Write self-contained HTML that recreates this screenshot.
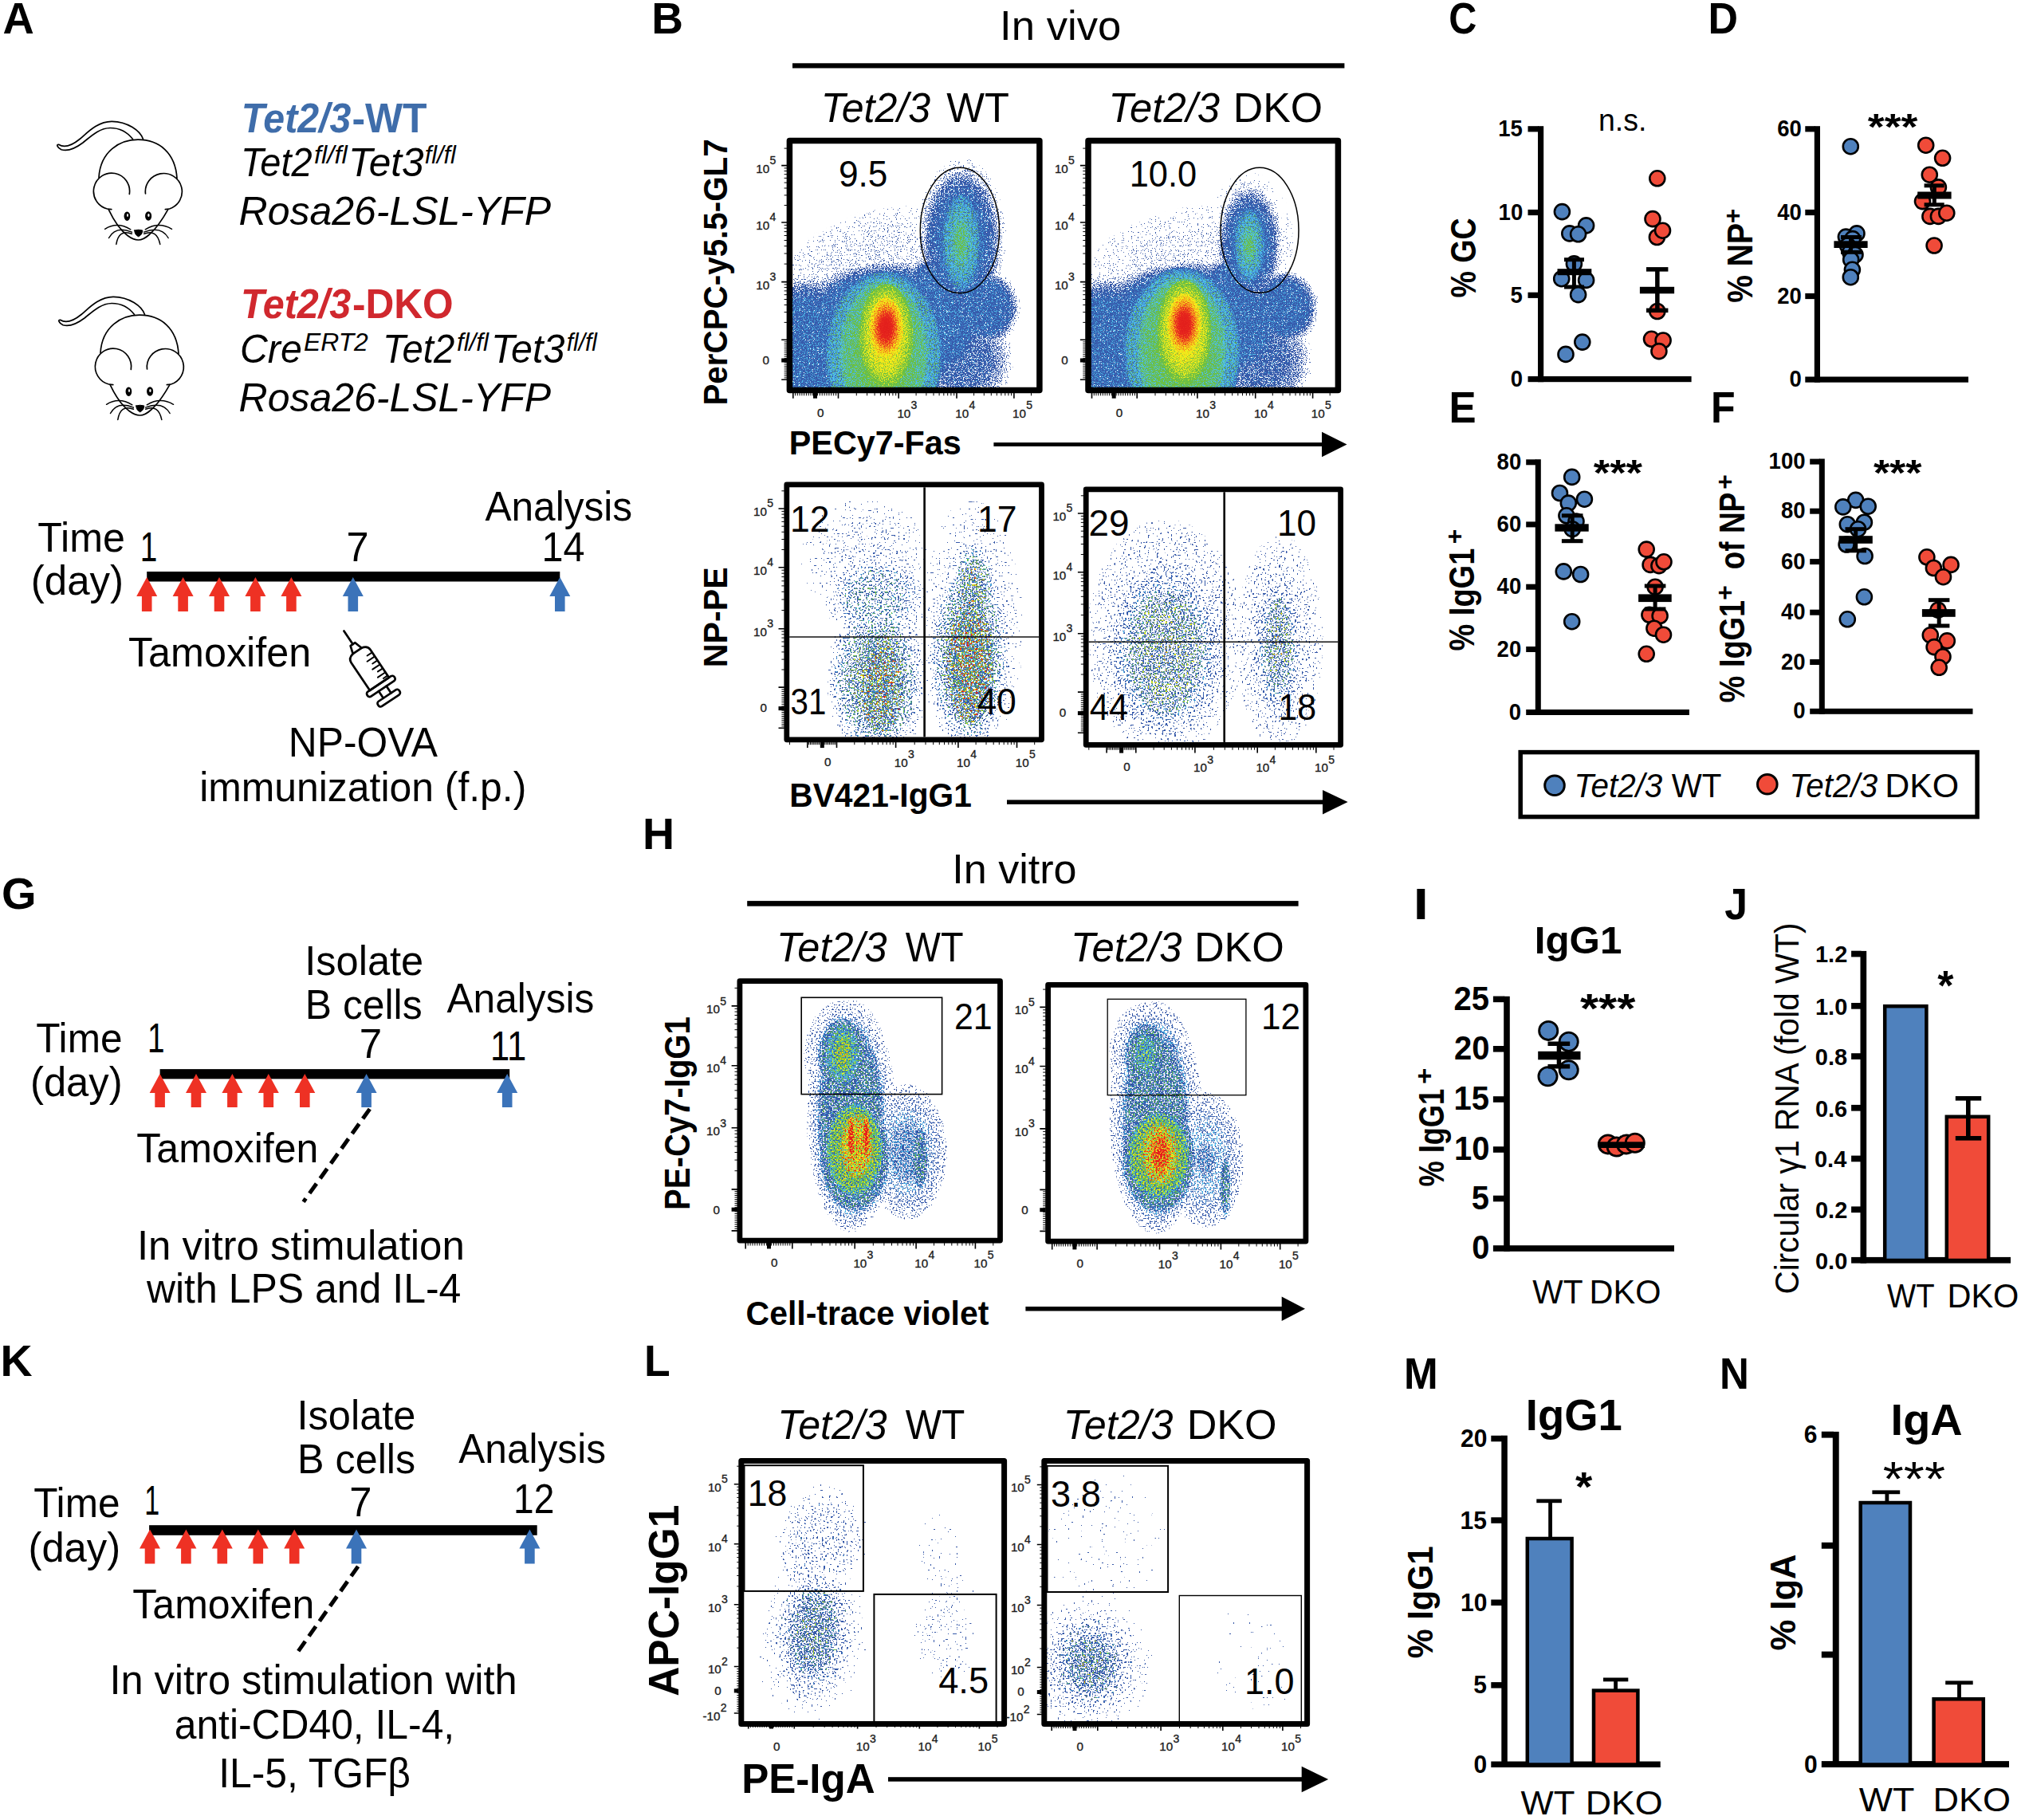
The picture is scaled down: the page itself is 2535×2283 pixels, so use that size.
<!DOCTYPE html>
<html><head><meta charset="utf-8"><title>Figure</title><style>html,body{margin:0;padding:0;background:#fff}svg{display:block}text{font-family:"Liberation Sans",sans-serif;white-space:pre}</style></head><body>
<svg width="2535" height="2283" viewBox="0 0 2535 2283">
<defs>
<radialGradient id="g1"><stop offset="0" stop-color="#6e6e6e"/><stop offset="0.72" stop-color="#6e6e6e"/><stop offset="0.82" stop-color="#5e5e5e"/><stop offset="0.9" stop-color="#454545"/><stop offset="0.96" stop-color="#2b2b2b"/><stop offset="1" stop-color="#141414"/></radialGradient>
<radialGradient id="g2"><stop offset="0" stop-color="#6e6e6e"/><stop offset="0.66" stop-color="#6e6e6e"/><stop offset="0.8" stop-color="#575757"/><stop offset="0.9" stop-color="#383838"/><stop offset="1" stop-color="#121212"/></radialGradient>
<radialGradient id="g3"><stop offset="0" stop-color="#6e6e6e"/><stop offset="0.66" stop-color="#6b6b6b"/><stop offset="0.8" stop-color="#525252"/><stop offset="0.9" stop-color="#333333"/><stop offset="1" stop-color="#0d0d0d"/></radialGradient>
<radialGradient id="g4"><stop offset="0" stop-color="#616161"/><stop offset="0.5" stop-color="#5c5c5c"/><stop offset="0.75" stop-color="#474747"/><stop offset="0.9" stop-color="#292929"/><stop offset="1" stop-color="#080808"/></radialGradient>
<radialGradient id="g5"><stop offset="0" stop-color="#6e6e6e"/><stop offset="0.6" stop-color="#666666"/><stop offset="0.85" stop-color="#383838"/><stop offset="1" stop-color="#0d0d0d"/></radialGradient>
<radialGradient id="g6"><stop offset="0" stop-color="#2e2e2e"/><stop offset="0.3" stop-color="#292929"/><stop offset="0.55" stop-color="#212121"/><stop offset="0.75" stop-color="#141414"/><stop offset="1" stop-color="#000000"/></radialGradient>
<radialGradient id="g7"><stop offset="0" stop-color="#212121"/><stop offset="0.6" stop-color="#1a1a1a"/><stop offset="0.8" stop-color="#0f0f0f"/><stop offset="1" stop-color="#000000"/></radialGradient>
<radialGradient id="g8"><stop offset="0" stop-color="#999999"/><stop offset="0.93" stop-color="#858585"/><stop offset="1" stop-color="#707070"/></radialGradient>
<radialGradient id="g9"><stop offset="0" stop-color="#b2b2b2"/><stop offset="0.9" stop-color="#999999"/><stop offset="1" stop-color="#8f8f8f"/></radialGradient>
<radialGradient id="g10"><stop offset="0" stop-color="#dbdbdb"/><stop offset="0.8" stop-color="#bfbfbf"/><stop offset="1" stop-color="#adadad"/></radialGradient>
<radialGradient id="g11"><stop offset="0" stop-color="#fcfcfc"/><stop offset="0.3" stop-color="#f5f5f5"/><stop offset="0.6" stop-color="#e3e3e3"/><stop offset="1" stop-color="#cccccc"/></radialGradient>
<radialGradient id="g12"><stop offset="0" stop-color="#808080"/><stop offset="0.45" stop-color="#707070"/><stop offset="0.68" stop-color="#5c5c5c"/><stop offset="0.8" stop-color="#3d3d3d"/><stop offset="0.9" stop-color="#212121"/><stop offset="1" stop-color="#080808"/></radialGradient>
<radialGradient id="g13"><stop offset="0" stop-color="#999999"/><stop offset="0.8" stop-color="#858585"/><stop offset="1" stop-color="#757575"/></radialGradient>
<radialGradient id="g14"><stop offset="0" stop-color="#a2a2a2"/><stop offset="0.7" stop-color="#969696"/><stop offset="1" stop-color="#8f8f8f"/></radialGradient>
<filter id="fb1" filterUnits="userSpaceOnUse" x="994.1" y="180.3" width="306.0" height="305.5" color-interpolation-filters="sRGB"><feTurbulence type="fractalNoise" baseFrequency="0.83" numOctaves="2" seed="3" result="n"/><feColorMatrix in="n" type="matrix" values="2.2 0 0 0 -0.60 2.2 0 0 0 -0.60 2.2 0 0 0 -0.60 0 0 0 0 1" result="m"/><feComposite in="SourceGraphic" in2="m" operator="arithmetic" k1="-0.383" k2="1.191" k3="0.450" k4="-0.225"/><feComponentTransfer><feFuncR type="table" tableValues="1 1 1 1 1 1 1 1 1 1 1 1 1 1 1 1 1 1 1 1 1 1 1 1 1 1 1 1 1 1 0.2 0.21 0.21 0.21 0.21 0.21 0.21 0.21 0.22 0.22 0.22 0.22 0.22 0.22 0.22 0.23 0.23 0.24 0.25 0.26 0.27 0.28 0.29 0.31 0.31 0.31 0.31 0.31 0.33 0.35 0.38 0.4 0.42 0.42 0.42 0.42 0.42 0.42 0.42 0.42 0.42 0.42 0.42 0.51 0.61 0.71 0.81 0.9 0.95 0.95 0.95 0.95 0.95 0.96 0.96 0.96 0.96 0.96 0.96 0.95 0.94 0.93 0.92 0.91 0.91 0.9 0.9 0.9 0.89 0.89 0.89"/><feFuncG type="table" tableValues="1 1 1 1 1 1 1 1 1 1 1 1 1 1 1 1 1 1 1 1 1 1 1 1 1 1 1 1 1 1 0.33 0.33 0.34 0.34 0.35 0.35 0.35 0.36 0.36 0.36 0.37 0.37 0.38 0.38 0.38 0.39 0.39 0.44 0.49 0.54 0.59 0.64 0.69 0.75 0.75 0.75 0.75 0.75 0.75 0.75 0.75 0.75 0.75 0.75 0.75 0.75 0.75 0.75 0.75 0.75 0.75 0.75 0.75 0.78 0.81 0.84 0.88 0.91 0.93 0.93 0.93 0.93 0.93 0.86 0.79 0.72 0.66 0.59 0.52 0.44 0.37 0.3 0.23 0.16 0.15 0.15 0.14 0.13 0.13 0.12 0.12"/><feFuncB type="table" tableValues="1 1 1 1 1 1 1 1 1 1 1 1 1 1 1 1 1 1 1 1 1 1 1 1 1 1 1 1 1 1 0.64 0.65 0.65 0.65 0.66 0.66 0.67 0.67 0.67 0.68 0.68 0.69 0.69 0.69 0.7 0.7 0.71 0.74 0.77 0.8 0.83 0.86 0.89 0.93 0.93 0.93 0.93 0.93 0.78 0.63 0.49 0.34 0.27 0.27 0.27 0.27 0.27 0.27 0.27 0.27 0.27 0.27 0.27 0.24 0.21 0.18 0.15 0.11 0.1 0.1 0.1 0.1 0.1 0.1 0.11 0.11 0.11 0.12 0.12 0.12 0.12 0.12 0.12 0.12 0.12 0.12 0.11 0.11 0.11 0.11 0.11"/></feComponentTransfer></filter>
<radialGradient id="g15"><stop offset="0" stop-color="#6e6e6e"/><stop offset="0.72" stop-color="#6e6e6e"/><stop offset="0.82" stop-color="#5e5e5e"/><stop offset="0.9" stop-color="#454545"/><stop offset="0.96" stop-color="#2b2b2b"/><stop offset="1" stop-color="#141414"/></radialGradient>
<radialGradient id="g16"><stop offset="0" stop-color="#6e6e6e"/><stop offset="0.66" stop-color="#6e6e6e"/><stop offset="0.8" stop-color="#575757"/><stop offset="0.9" stop-color="#383838"/><stop offset="1" stop-color="#121212"/></radialGradient>
<radialGradient id="g17"><stop offset="0" stop-color="#6e6e6e"/><stop offset="0.66" stop-color="#6b6b6b"/><stop offset="0.8" stop-color="#525252"/><stop offset="0.9" stop-color="#333333"/><stop offset="1" stop-color="#0d0d0d"/></radialGradient>
<radialGradient id="g18"><stop offset="0" stop-color="#616161"/><stop offset="0.5" stop-color="#5c5c5c"/><stop offset="0.75" stop-color="#474747"/><stop offset="0.9" stop-color="#292929"/><stop offset="1" stop-color="#080808"/></radialGradient>
<radialGradient id="g19"><stop offset="0" stop-color="#6e6e6e"/><stop offset="0.6" stop-color="#666666"/><stop offset="0.85" stop-color="#383838"/><stop offset="1" stop-color="#0d0d0d"/></radialGradient>
<radialGradient id="g20"><stop offset="0" stop-color="#2e2e2e"/><stop offset="0.3" stop-color="#292929"/><stop offset="0.55" stop-color="#212121"/><stop offset="0.75" stop-color="#141414"/><stop offset="1" stop-color="#000000"/></radialGradient>
<radialGradient id="g21"><stop offset="0" stop-color="#212121"/><stop offset="0.6" stop-color="#1a1a1a"/><stop offset="0.8" stop-color="#0f0f0f"/><stop offset="1" stop-color="#000000"/></radialGradient>
<radialGradient id="g22"><stop offset="0" stop-color="#999999"/><stop offset="0.93" stop-color="#858585"/><stop offset="1" stop-color="#707070"/></radialGradient>
<radialGradient id="g23"><stop offset="0" stop-color="#b2b2b2"/><stop offset="0.9" stop-color="#999999"/><stop offset="1" stop-color="#8f8f8f"/></radialGradient>
<radialGradient id="g24"><stop offset="0" stop-color="#dbdbdb"/><stop offset="0.8" stop-color="#bfbfbf"/><stop offset="1" stop-color="#adadad"/></radialGradient>
<radialGradient id="g25"><stop offset="0" stop-color="#fcfcfc"/><stop offset="0.3" stop-color="#f5f5f5"/><stop offset="0.6" stop-color="#e3e3e3"/><stop offset="1" stop-color="#cccccc"/></radialGradient>
<radialGradient id="g26"><stop offset="0" stop-color="#808080"/><stop offset="0.45" stop-color="#707070"/><stop offset="0.68" stop-color="#5c5c5c"/><stop offset="0.8" stop-color="#3d3d3d"/><stop offset="0.9" stop-color="#212121"/><stop offset="1" stop-color="#080808"/></radialGradient>
<radialGradient id="g27"><stop offset="0" stop-color="#999999"/><stop offset="0.8" stop-color="#858585"/><stop offset="1" stop-color="#757575"/></radialGradient>
<radialGradient id="g28"><stop offset="0" stop-color="#a2a2a2"/><stop offset="0.7" stop-color="#969696"/><stop offset="1" stop-color="#8f8f8f"/></radialGradient>
<filter id="fb2" filterUnits="userSpaceOnUse" x="1368.8" y="180.3" width="305.9" height="305.5" color-interpolation-filters="sRGB"><feTurbulence type="fractalNoise" baseFrequency="0.83" numOctaves="2" seed="7" result="n"/><feColorMatrix in="n" type="matrix" values="2.2 0 0 0 -0.60 2.2 0 0 0 -0.60 2.2 0 0 0 -0.60 0 0 0 0 1" result="m"/><feComposite in="SourceGraphic" in2="m" operator="arithmetic" k1="-0.383" k2="1.191" k3="0.450" k4="-0.225"/><feComponentTransfer><feFuncR type="table" tableValues="1 1 1 1 1 1 1 1 1 1 1 1 1 1 1 1 1 1 1 1 1 1 1 1 1 1 1 1 1 1 0.2 0.21 0.21 0.21 0.21 0.21 0.21 0.21 0.22 0.22 0.22 0.22 0.22 0.22 0.22 0.23 0.23 0.24 0.25 0.26 0.27 0.28 0.29 0.31 0.31 0.31 0.31 0.31 0.33 0.35 0.38 0.4 0.42 0.42 0.42 0.42 0.42 0.42 0.42 0.42 0.42 0.42 0.42 0.51 0.61 0.71 0.81 0.9 0.95 0.95 0.95 0.95 0.95 0.96 0.96 0.96 0.96 0.96 0.96 0.95 0.94 0.93 0.92 0.91 0.91 0.9 0.9 0.9 0.89 0.89 0.89"/><feFuncG type="table" tableValues="1 1 1 1 1 1 1 1 1 1 1 1 1 1 1 1 1 1 1 1 1 1 1 1 1 1 1 1 1 1 0.33 0.33 0.34 0.34 0.35 0.35 0.35 0.36 0.36 0.36 0.37 0.37 0.38 0.38 0.38 0.39 0.39 0.44 0.49 0.54 0.59 0.64 0.69 0.75 0.75 0.75 0.75 0.75 0.75 0.75 0.75 0.75 0.75 0.75 0.75 0.75 0.75 0.75 0.75 0.75 0.75 0.75 0.75 0.78 0.81 0.84 0.88 0.91 0.93 0.93 0.93 0.93 0.93 0.86 0.79 0.72 0.66 0.59 0.52 0.44 0.37 0.3 0.23 0.16 0.15 0.15 0.14 0.13 0.13 0.12 0.12"/><feFuncB type="table" tableValues="1 1 1 1 1 1 1 1 1 1 1 1 1 1 1 1 1 1 1 1 1 1 1 1 1 1 1 1 1 1 0.64 0.65 0.65 0.65 0.66 0.66 0.67 0.67 0.67 0.68 0.68 0.69 0.69 0.69 0.7 0.7 0.71 0.74 0.77 0.8 0.83 0.86 0.89 0.93 0.93 0.93 0.93 0.93 0.78 0.63 0.49 0.34 0.27 0.27 0.27 0.27 0.27 0.27 0.27 0.27 0.27 0.27 0.27 0.24 0.21 0.18 0.15 0.11 0.1 0.1 0.1 0.1 0.1 0.1 0.11 0.11 0.11 0.12 0.12 0.12 0.12 0.12 0.12 0.12 0.12 0.12 0.11 0.11 0.11 0.11 0.11"/></feComponentTransfer></filter>
<radialGradient id="g29"><stop offset="0" stop-color="#242424"/><stop offset="0.6" stop-color="#1a1a1a"/><stop offset="0.85" stop-color="#0d0d0d"/><stop offset="1" stop-color="#000000"/></radialGradient>
<radialGradient id="g30"><stop offset="0" stop-color="#757575"/><stop offset="0.45" stop-color="#696969"/><stop offset="0.7" stop-color="#4c4c4c"/><stop offset="0.88" stop-color="#262626"/><stop offset="1" stop-color="#080808"/></radialGradient>
<radialGradient id="g31"><stop offset="0" stop-color="#999999"/><stop offset="0.5" stop-color="#8f8f8f"/><stop offset="0.8" stop-color="#808080"/><stop offset="1" stop-color="#707070"/></radialGradient>
<radialGradient id="g32"><stop offset="0" stop-color="#242424"/><stop offset="0.5" stop-color="#1c1c1c"/><stop offset="0.8" stop-color="#0f0f0f"/><stop offset="1" stop-color="#000000"/></radialGradient>
<radialGradient id="g33"><stop offset="0" stop-color="#4f4f4f"/><stop offset="0.5" stop-color="#454545"/><stop offset="0.8" stop-color="#242424"/><stop offset="1" stop-color="#050505"/></radialGradient>
<radialGradient id="g34"><stop offset="0" stop-color="#787878"/><stop offset="0.5" stop-color="#6b6b6b"/><stop offset="0.8" stop-color="#4c4c4c"/><stop offset="1" stop-color="#262626"/></radialGradient>
<radialGradient id="g35"><stop offset="0" stop-color="#737373"/><stop offset="0.45" stop-color="#666666"/><stop offset="0.7" stop-color="#4a4a4a"/><stop offset="0.88" stop-color="#242424"/><stop offset="1" stop-color="#080808"/></radialGradient>
<radialGradient id="g36"><stop offset="0" stop-color="#8a8a8a"/><stop offset="0.5" stop-color="#828282"/><stop offset="0.8" stop-color="#757575"/><stop offset="1" stop-color="#6b6b6b"/></radialGradient>
<filter id="fb3" filterUnits="userSpaceOnUse" x="990.2" y="611.3" width="312.9" height="313.1" color-interpolation-filters="sRGB"><feTurbulence type="fractalNoise" baseFrequency="0.45" numOctaves="1" seed="11" result="n"/><feColorMatrix in="n" type="matrix" values="2.2 0 0 0 -0.60 2.2 0 0 0 -0.60 2.2 0 0 0 -0.60 0 0 0 0 1" result="m"/><feComposite in="SourceGraphic" in2="m" operator="arithmetic" k1="-0.000" k2="1.000" k3="0.800" k4="-0.400"/><feComponentTransfer><feFuncR type="table" tableValues="1 1 1 1 1 1 1 1 1 1 1 1 1 1 1 1 1 1 1 1 1 1 1 1 1 1 1 1 1 1 1 1 1 1 1 1 1 1 1 1 1 0.2 0.21 0.21 0.21 0.21 0.21 0.21 0.21 0.22 0.22 0.22 0.22 0.22 0.22 0.23 0.23 0.25 0.28 0.31 0.31 0.31 0.36 0.42 0.42 0.42 0.42 0.42 0.42 0.42 0.42 0.57 0.72 0.88 0.95 0.95 0.95 0.95 0.95 0.96 0.96 0.95 0.93 0.91 0.91 0.91 0.91 0.9 0.9 0.9 0.9 0.9 0.9 0.9 0.89 0.89 0.89 0.89 0.89 0.89 0.89"/><feFuncG type="table" tableValues="1 1 1 1 1 1 1 1 1 1 1 1 1 1 1 1 1 1 1 1 1 1 1 1 1 1 1 1 1 1 1 1 1 1 1 1 1 1 1 1 1 0.33 0.33 0.34 0.34 0.35 0.35 0.35 0.36 0.36 0.37 0.37 0.38 0.38 0.38 0.39 0.39 0.51 0.63 0.75 0.75 0.75 0.75 0.75 0.75 0.75 0.75 0.75 0.75 0.75 0.75 0.8 0.85 0.9 0.93 0.93 0.93 0.93 0.93 0.76 0.59 0.44 0.3 0.16 0.15 0.15 0.15 0.15 0.15 0.14 0.14 0.14 0.14 0.13 0.13 0.13 0.13 0.12 0.12 0.12 0.12"/><feFuncB type="table" tableValues="1 1 1 1 1 1 1 1 1 1 1 1 1 1 1 1 1 1 1 1 1 1 1 1 1 1 1 1 1 1 1 1 1 1 1 1 1 1 1 1 1 0.64 0.65 0.65 0.66 0.66 0.66 0.67 0.67 0.68 0.68 0.68 0.69 0.69 0.7 0.7 0.71 0.78 0.85 0.93 0.93 0.93 0.6 0.27 0.27 0.27 0.27 0.27 0.27 0.27 0.27 0.22 0.17 0.12 0.1 0.1 0.1 0.1 0.1 0.11 0.12 0.12 0.12 0.12 0.12 0.12 0.12 0.12 0.12 0.11 0.11 0.11 0.11 0.11 0.11 0.11 0.11 0.11 0.11 0.11 0.11"/></feComponentTransfer></filter>
<radialGradient id="g37"><stop offset="0" stop-color="#292929"/><stop offset="0.6" stop-color="#1f1f1f"/><stop offset="0.85" stop-color="#0f0f0f"/><stop offset="1" stop-color="#000000"/></radialGradient>
<radialGradient id="g38"><stop offset="0" stop-color="#5c5c5c"/><stop offset="0.5" stop-color="#4f4f4f"/><stop offset="0.75" stop-color="#383838"/><stop offset="0.9" stop-color="#1f1f1f"/><stop offset="1" stop-color="#080808"/></radialGradient>
<radialGradient id="g39"><stop offset="0" stop-color="#666666"/><stop offset="0.6" stop-color="#616161"/><stop offset="1" stop-color="#545454"/></radialGradient>
<radialGradient id="g40"><stop offset="0" stop-color="#242424"/><stop offset="0.6" stop-color="#1a1a1a"/><stop offset="0.85" stop-color="#0d0d0d"/><stop offset="1" stop-color="#000000"/></radialGradient>
<radialGradient id="g41"><stop offset="0" stop-color="#545454"/><stop offset="0.5" stop-color="#474747"/><stop offset="0.8" stop-color="#292929"/><stop offset="1" stop-color="#0a0a0a"/></radialGradient>
<radialGradient id="g42"><stop offset="0" stop-color="#696969"/><stop offset="0.6" stop-color="#616161"/><stop offset="1" stop-color="#525252"/></radialGradient>
<filter id="fb4" filterUnits="userSpaceOnUse" x="1365.6" y="617.3" width="312.6" height="313.6" color-interpolation-filters="sRGB"><feTurbulence type="fractalNoise" baseFrequency="0.45" numOctaves="1" seed="12" result="n"/><feColorMatrix in="n" type="matrix" values="2.6 0 0 0 -0.80 2.6 0 0 0 -0.80 2.6 0 0 0 -0.80 0 0 0 0 1" result="m"/><feComposite in="SourceGraphic" in2="m" operator="arithmetic" k1="-0.000" k2="1.000" k3="0.800" k4="-0.400"/><feComponentTransfer><feFuncR type="table" tableValues="1 1 1 1 1 1 1 1 1 1 1 1 1 1 1 1 1 1 1 1 1 1 1 1 1 1 1 1 1 1 1 1 1 1 1 1 1 1 1 1 1 0.2 0.21 0.21 0.21 0.21 0.21 0.21 0.21 0.21 0.21 0.22 0.22 0.22 0.22 0.22 0.22 0.22 0.22 0.23 0.23 0.23 0.25 0.28 0.31 0.31 0.36 0.42 0.42 0.42 0.42 0.42 0.42 0.59 0.77 0.95 0.95 0.95 0.95 0.96 0.96 0.95 0.93 0.91 0.91 0.91 0.91 0.9 0.9 0.9 0.9 0.9 0.9 0.9 0.89 0.89 0.89 0.89 0.89 0.89 0.89"/><feFuncG type="table" tableValues="1 1 1 1 1 1 1 1 1 1 1 1 1 1 1 1 1 1 1 1 1 1 1 1 1 1 1 1 1 1 1 1 1 1 1 1 1 1 1 1 1 0.33 0.33 0.34 0.34 0.34 0.35 0.35 0.35 0.35 0.36 0.36 0.36 0.37 0.37 0.37 0.38 0.38 0.38 0.39 0.39 0.39 0.51 0.63 0.75 0.75 0.75 0.75 0.75 0.75 0.75 0.75 0.75 0.81 0.87 0.93 0.93 0.93 0.93 0.76 0.59 0.44 0.3 0.16 0.15 0.15 0.15 0.15 0.15 0.14 0.14 0.14 0.14 0.13 0.13 0.13 0.13 0.12 0.12 0.12 0.12"/><feFuncB type="table" tableValues="1 1 1 1 1 1 1 1 1 1 1 1 1 1 1 1 1 1 1 1 1 1 1 1 1 1 1 1 1 1 1 1 1 1 1 1 1 1 1 1 1 0.64 0.65 0.65 0.65 0.66 0.66 0.66 0.67 0.67 0.67 0.67 0.68 0.68 0.68 0.69 0.69 0.69 0.7 0.7 0.7 0.71 0.78 0.85 0.93 0.93 0.6 0.27 0.27 0.27 0.27 0.27 0.27 0.21 0.16 0.1 0.1 0.1 0.1 0.11 0.12 0.12 0.12 0.12 0.12 0.12 0.12 0.12 0.12 0.11 0.11 0.11 0.11 0.11 0.11 0.11 0.11 0.11 0.11 0.11 0.11"/></feComponentTransfer></filter>
<radialGradient id="g43"><stop offset="0" stop-color="#242424"/><stop offset="0.7" stop-color="#1a1a1a"/><stop offset="1" stop-color="#000000"/></radialGradient>
<radialGradient id="g44"><stop offset="0" stop-color="#808080"/><stop offset="0.55" stop-color="#737373"/><stop offset="0.78" stop-color="#5c5c5c"/><stop offset="0.9" stop-color="#383838"/><stop offset="1" stop-color="#0f0f0f"/></radialGradient>
<radialGradient id="g45"><stop offset="0" stop-color="#999999"/><stop offset="0.7" stop-color="#878787"/><stop offset="1" stop-color="#787878"/></radialGradient>
<radialGradient id="g46"><stop offset="0" stop-color="#b2b2b2"/><stop offset="0.7" stop-color="#9e9e9e"/><stop offset="1" stop-color="#8f8f8f"/></radialGradient>
<radialGradient id="g47"><stop offset="0" stop-color="#292929"/><stop offset="0.75" stop-color="#1f1f1f"/><stop offset="1" stop-color="#000000"/></radialGradient>
<radialGradient id="g48"><stop offset="0" stop-color="#666666"/><stop offset="0.7" stop-color="#616161"/><stop offset="0.85" stop-color="#474747"/><stop offset="0.94" stop-color="#292929"/><stop offset="1" stop-color="#0a0a0a"/></radialGradient>
<radialGradient id="g49"><stop offset="0" stop-color="#808080"/><stop offset="0.6" stop-color="#757575"/><stop offset="0.8" stop-color="#616161"/><stop offset="0.92" stop-color="#383838"/><stop offset="1" stop-color="#0f0f0f"/></radialGradient>
<radialGradient id="g50"><stop offset="0" stop-color="#b2b2b2"/><stop offset="0.85" stop-color="#9c9c9c"/><stop offset="1" stop-color="#8c8c8c"/></radialGradient>
<radialGradient id="g51"><stop offset="0" stop-color="#d6d6d6"/><stop offset="0.8" stop-color="#c2c2c2"/><stop offset="1" stop-color="#b2b2b2"/></radialGradient>
<radialGradient id="g52"><stop offset="0" stop-color="#f7f7f7"/><stop offset="0.6" stop-color="#ebebeb"/><stop offset="1" stop-color="#cccccc"/></radialGradient>
<radialGradient id="g53"><stop offset="0" stop-color="#f7f7f7"/><stop offset="0.6" stop-color="#ebebeb"/><stop offset="1" stop-color="#cccccc"/></radialGradient>
<radialGradient id="g54"><stop offset="0" stop-color="#525252"/><stop offset="0.5" stop-color="#4a4a4a"/><stop offset="0.8" stop-color="#2e2e2e"/><stop offset="1" stop-color="#050505"/></radialGradient>
<radialGradient id="g55"><stop offset="0" stop-color="#6b6b6b"/><stop offset="0.6" stop-color="#616161"/><stop offset="1" stop-color="#333333"/></radialGradient>
<filter id="fh1" filterUnits="userSpaceOnUse" x="931.3" y="1234.1" width="319.8" height="318.6" color-interpolation-filters="sRGB"><feTurbulence type="fractalNoise" baseFrequency="0.5" numOctaves="1" seed="21" result="n"/><feColorMatrix in="n" type="matrix" values="3.4 0 0 0 -1.20 3.4 0 0 0 -1.20 3.4 0 0 0 -1.20 0 0 0 0 1" result="m"/><feComposite in="SourceGraphic" in2="m" operator="arithmetic" k1="-0.224" k2="1.112" k3="0.560" k4="-0.280"/><feComponentTransfer><feFuncR type="table" tableValues="1 1 1 1 1 1 1 1 1 1 1 1 1 1 1 1 1 1 1 1 1 1 1 1 1 1 1 1 1 1 0.2 0.21 0.21 0.21 0.21 0.21 0.21 0.21 0.22 0.22 0.22 0.22 0.22 0.22 0.22 0.23 0.23 0.24 0.25 0.26 0.27 0.28 0.29 0.31 0.31 0.31 0.31 0.31 0.33 0.35 0.38 0.4 0.42 0.42 0.42 0.42 0.42 0.42 0.42 0.42 0.42 0.42 0.42 0.51 0.61 0.71 0.81 0.9 0.95 0.95 0.95 0.95 0.95 0.96 0.96 0.96 0.96 0.96 0.96 0.95 0.94 0.93 0.92 0.91 0.91 0.9 0.9 0.9 0.89 0.89 0.89"/><feFuncG type="table" tableValues="1 1 1 1 1 1 1 1 1 1 1 1 1 1 1 1 1 1 1 1 1 1 1 1 1 1 1 1 1 1 0.33 0.33 0.34 0.34 0.35 0.35 0.35 0.36 0.36 0.36 0.37 0.37 0.38 0.38 0.38 0.39 0.39 0.44 0.49 0.54 0.59 0.64 0.69 0.75 0.75 0.75 0.75 0.75 0.75 0.75 0.75 0.75 0.75 0.75 0.75 0.75 0.75 0.75 0.75 0.75 0.75 0.75 0.75 0.78 0.81 0.84 0.88 0.91 0.93 0.93 0.93 0.93 0.93 0.86 0.79 0.72 0.66 0.59 0.52 0.44 0.37 0.3 0.23 0.16 0.15 0.15 0.14 0.13 0.13 0.12 0.12"/><feFuncB type="table" tableValues="1 1 1 1 1 1 1 1 1 1 1 1 1 1 1 1 1 1 1 1 1 1 1 1 1 1 1 1 1 1 0.64 0.65 0.65 0.65 0.66 0.66 0.67 0.67 0.67 0.68 0.68 0.69 0.69 0.69 0.7 0.7 0.71 0.74 0.77 0.8 0.83 0.86 0.89 0.93 0.93 0.93 0.93 0.93 0.78 0.63 0.49 0.34 0.27 0.27 0.27 0.27 0.27 0.27 0.27 0.27 0.27 0.27 0.27 0.24 0.21 0.18 0.15 0.11 0.1 0.1 0.1 0.1 0.1 0.1 0.11 0.11 0.11 0.12 0.12 0.12 0.12 0.12 0.12 0.12 0.12 0.12 0.11 0.11 0.11 0.11 0.11"/></feComponentTransfer></filter>
<radialGradient id="g56"><stop offset="0" stop-color="#242424"/><stop offset="0.7" stop-color="#1a1a1a"/><stop offset="1" stop-color="#000000"/></radialGradient>
<radialGradient id="g57"><stop offset="0" stop-color="#757575"/><stop offset="0.5" stop-color="#6e6e6e"/><stop offset="0.75" stop-color="#545454"/><stop offset="0.9" stop-color="#2e2e2e"/><stop offset="1" stop-color="#0a0a0a"/></radialGradient>
<radialGradient id="g58"><stop offset="0" stop-color="#8f8f8f"/><stop offset="0.7" stop-color="#808080"/><stop offset="1" stop-color="#707070"/></radialGradient>
<radialGradient id="g59"><stop offset="0" stop-color="#292929"/><stop offset="0.75" stop-color="#1f1f1f"/><stop offset="1" stop-color="#000000"/></radialGradient>
<radialGradient id="g60"><stop offset="0" stop-color="#636363"/><stop offset="0.7" stop-color="#5e5e5e"/><stop offset="0.85" stop-color="#454545"/><stop offset="0.94" stop-color="#292929"/><stop offset="1" stop-color="#0a0a0a"/></radialGradient>
<radialGradient id="g61"><stop offset="0" stop-color="#808080"/><stop offset="0.6" stop-color="#757575"/><stop offset="0.8" stop-color="#616161"/><stop offset="0.92" stop-color="#383838"/><stop offset="1" stop-color="#0f0f0f"/></radialGradient>
<radialGradient id="g62"><stop offset="0" stop-color="#b2b2b2"/><stop offset="0.85" stop-color="#9c9c9c"/><stop offset="1" stop-color="#8c8c8c"/></radialGradient>
<radialGradient id="g63"><stop offset="0" stop-color="#d6d6d6"/><stop offset="0.8" stop-color="#c2c2c2"/><stop offset="1" stop-color="#b2b2b2"/></radialGradient>
<radialGradient id="g64"><stop offset="0" stop-color="#f2f2f2"/><stop offset="0.6" stop-color="#e6e6e6"/><stop offset="1" stop-color="#cccccc"/></radialGradient>
<radialGradient id="g65"><stop offset="0" stop-color="#4f4f4f"/><stop offset="0.5" stop-color="#474747"/><stop offset="0.8" stop-color="#2b2b2b"/><stop offset="1" stop-color="#050505"/></radialGradient>
<radialGradient id="g66"><stop offset="0" stop-color="#6b6b6b"/><stop offset="0.6" stop-color="#616161"/><stop offset="1" stop-color="#333333"/></radialGradient>
<filter id="fh2" filterUnits="userSpaceOnUse" x="1318.0" y="1238.8" width="316.5" height="314.9" color-interpolation-filters="sRGB"><feTurbulence type="fractalNoise" baseFrequency="0.5" numOctaves="1" seed="22" result="n"/><feColorMatrix in="n" type="matrix" values="3.4 0 0 0 -1.20 3.4 0 0 0 -1.20 3.4 0 0 0 -1.20 0 0 0 0 1" result="m"/><feComposite in="SourceGraphic" in2="m" operator="arithmetic" k1="-0.224" k2="1.112" k3="0.560" k4="-0.280"/><feComponentTransfer><feFuncR type="table" tableValues="1 1 1 1 1 1 1 1 1 1 1 1 1 1 1 1 1 1 1 1 1 1 1 1 1 1 1 1 1 1 0.2 0.21 0.21 0.21 0.21 0.21 0.21 0.21 0.22 0.22 0.22 0.22 0.22 0.22 0.22 0.23 0.23 0.24 0.25 0.26 0.27 0.28 0.29 0.31 0.31 0.31 0.31 0.31 0.33 0.35 0.38 0.4 0.42 0.42 0.42 0.42 0.42 0.42 0.42 0.42 0.42 0.42 0.42 0.51 0.61 0.71 0.81 0.9 0.95 0.95 0.95 0.95 0.95 0.96 0.96 0.96 0.96 0.96 0.96 0.95 0.94 0.93 0.92 0.91 0.91 0.9 0.9 0.9 0.89 0.89 0.89"/><feFuncG type="table" tableValues="1 1 1 1 1 1 1 1 1 1 1 1 1 1 1 1 1 1 1 1 1 1 1 1 1 1 1 1 1 1 0.33 0.33 0.34 0.34 0.35 0.35 0.35 0.36 0.36 0.36 0.37 0.37 0.38 0.38 0.38 0.39 0.39 0.44 0.49 0.54 0.59 0.64 0.69 0.75 0.75 0.75 0.75 0.75 0.75 0.75 0.75 0.75 0.75 0.75 0.75 0.75 0.75 0.75 0.75 0.75 0.75 0.75 0.75 0.78 0.81 0.84 0.88 0.91 0.93 0.93 0.93 0.93 0.93 0.86 0.79 0.72 0.66 0.59 0.52 0.44 0.37 0.3 0.23 0.16 0.15 0.15 0.14 0.13 0.13 0.12 0.12"/><feFuncB type="table" tableValues="1 1 1 1 1 1 1 1 1 1 1 1 1 1 1 1 1 1 1 1 1 1 1 1 1 1 1 1 1 1 0.64 0.65 0.65 0.65 0.66 0.66 0.67 0.67 0.67 0.68 0.68 0.69 0.69 0.69 0.7 0.7 0.71 0.74 0.77 0.8 0.83 0.86 0.89 0.93 0.93 0.93 0.93 0.93 0.78 0.63 0.49 0.34 0.27 0.27 0.27 0.27 0.27 0.27 0.27 0.27 0.27 0.27 0.27 0.24 0.21 0.18 0.15 0.11 0.1 0.1 0.1 0.1 0.1 0.1 0.11 0.11 0.11 0.12 0.12 0.12 0.12 0.12 0.12 0.12 0.12 0.12 0.11 0.11 0.11 0.11 0.11"/></feComponentTransfer></filter>
<radialGradient id="g67"><stop offset="0" stop-color="#363636"/><stop offset="0.6" stop-color="#303030"/><stop offset="0.85" stop-color="#242424"/><stop offset="1" stop-color="#0d0d0d"/></radialGradient>
<radialGradient id="g68"><stop offset="0" stop-color="#5e5e5e"/><stop offset="0.5" stop-color="#575757"/><stop offset="0.8" stop-color="#404040"/><stop offset="1" stop-color="#262626"/></radialGradient>
<radialGradient id="g69"><stop offset="0" stop-color="#6e6e6e"/><stop offset="0.6" stop-color="#696969"/><stop offset="1" stop-color="#595959"/></radialGradient>
<radialGradient id="g70"><stop offset="0" stop-color="#404040"/><stop offset="0.5" stop-color="#3b3b3b"/><stop offset="0.8" stop-color="#2b2b2b"/><stop offset="1" stop-color="#0f0f0f"/></radialGradient>
<radialGradient id="g71"><stop offset="0" stop-color="#2b2b2b"/><stop offset="0.6" stop-color="#282828"/><stop offset="1" stop-color="#141414"/></radialGradient>
<radialGradient id="g72"><stop offset="0" stop-color="#212121"/><stop offset="0.6" stop-color="#1f1f1f"/><stop offset="1" stop-color="#121212"/></radialGradient>
<filter id="fl1" filterUnits="userSpaceOnUse" x="933.3" y="1836.1" width="322.8" height="322.9" color-interpolation-filters="sRGB"><feTurbulence type="fractalNoise" baseFrequency="0.45" numOctaves="1" seed="31" result="n"/><feColorMatrix in="n" type="matrix" values="1.6 0 0 0 -0.30 1.6 0 0 0 -0.30 1.6 0 0 0 -0.30 0 0 0 0 1" result="m"/><feComposite in="SourceGraphic" in2="m" operator="arithmetic" k1="-0.000" k2="1.000" k3="0.800" k4="-0.400"/><feComponentTransfer><feFuncR type="table" tableValues="1 1 1 1 1 1 1 1 1 1 1 1 1 1 1 1 1 1 1 1 1 1 1 1 1 1 1 1 1 1 1 1 1 1 1 1 1 1 1 1 1 0.2 0.21 0.21 0.21 0.21 0.21 0.21 0.21 0.22 0.22 0.22 0.22 0.22 0.22 0.22 0.23 0.23 0.26 0.29 0.31 0.33 0.39 0.42 0.42 0.42 0.42 0.52 0.74 0.95 0.95 0.95 0.95 0.95 0.96 0.96 0.95 0.93 0.91 0.91 0.91 0.91 0.91 0.9 0.9 0.9 0.9 0.9 0.9 0.9 0.9 0.9 0.89 0.89 0.89 0.89 0.89 0.89 0.89 0.89 0.89"/><feFuncG type="table" tableValues="1 1 1 1 1 1 1 1 1 1 1 1 1 1 1 1 1 1 1 1 1 1 1 1 1 1 1 1 1 1 1 1 1 1 1 1 1 1 1 1 1 0.33 0.33 0.34 0.34 0.35 0.35 0.35 0.36 0.36 0.36 0.37 0.37 0.38 0.38 0.38 0.39 0.39 0.53 0.67 0.75 0.75 0.75 0.75 0.75 0.75 0.75 0.78 0.85 0.93 0.93 0.93 0.93 0.93 0.76 0.59 0.44 0.3 0.16 0.16 0.15 0.15 0.15 0.15 0.15 0.14 0.14 0.14 0.14 0.14 0.14 0.13 0.13 0.13 0.13 0.13 0.12 0.12 0.12 0.12 0.12"/><feFuncB type="table" tableValues="1 1 1 1 1 1 1 1 1 1 1 1 1 1 1 1 1 1 1 1 1 1 1 1 1 1 1 1 1 1 1 1 1 1 1 1 1 1 1 1 1 0.64 0.65 0.65 0.65 0.66 0.66 0.67 0.67 0.67 0.68 0.68 0.69 0.69 0.69 0.7 0.7 0.71 0.79 0.88 0.93 0.76 0.43 0.27 0.27 0.27 0.27 0.24 0.17 0.1 0.1 0.1 0.1 0.1 0.11 0.12 0.12 0.12 0.12 0.12 0.12 0.12 0.12 0.12 0.12 0.12 0.11 0.11 0.11 0.11 0.11 0.11 0.11 0.11 0.11 0.11 0.11 0.11 0.11 0.11 0.11"/></feComponentTransfer></filter>
<radialGradient id="g73"><stop offset="0" stop-color="#363636"/><stop offset="0.6" stop-color="#303030"/><stop offset="0.85" stop-color="#242424"/><stop offset="1" stop-color="#0d0d0d"/></radialGradient>
<radialGradient id="g74"><stop offset="0" stop-color="#616161"/><stop offset="0.5" stop-color="#595959"/><stop offset="0.8" stop-color="#404040"/><stop offset="1" stop-color="#262626"/></radialGradient>
<radialGradient id="g75"><stop offset="0" stop-color="#707070"/><stop offset="0.6" stop-color="#6b6b6b"/><stop offset="1" stop-color="#5c5c5c"/></radialGradient>
<radialGradient id="g76"><stop offset="0" stop-color="#1d1d1d"/><stop offset="0.7" stop-color="#1b1b1b"/><stop offset="1" stop-color="#0f0f0f"/></radialGradient>
<radialGradient id="g77"><stop offset="0" stop-color="#181818"/><stop offset="0.7" stop-color="#161616"/><stop offset="1" stop-color="#0d0d0d"/></radialGradient>
<filter id="fl2" filterUnits="userSpaceOnUse" x="1313.3" y="1836.1" width="322.8" height="322.9" color-interpolation-filters="sRGB"><feTurbulence type="fractalNoise" baseFrequency="0.45" numOctaves="1" seed="32" result="n"/><feColorMatrix in="n" type="matrix" values="1.6 0 0 0 -0.30 1.6 0 0 0 -0.30 1.6 0 0 0 -0.30 0 0 0 0 1" result="m"/><feComposite in="SourceGraphic" in2="m" operator="arithmetic" k1="-0.000" k2="1.000" k3="0.800" k4="-0.400"/><feComponentTransfer><feFuncR type="table" tableValues="1 1 1 1 1 1 1 1 1 1 1 1 1 1 1 1 1 1 1 1 1 1 1 1 1 1 1 1 1 1 1 1 1 1 1 1 1 1 1 1 1 0.2 0.21 0.21 0.21 0.21 0.21 0.21 0.21 0.22 0.22 0.22 0.22 0.22 0.22 0.22 0.23 0.23 0.26 0.29 0.31 0.33 0.39 0.42 0.42 0.42 0.42 0.52 0.74 0.95 0.95 0.95 0.95 0.95 0.96 0.96 0.95 0.93 0.91 0.91 0.91 0.91 0.91 0.9 0.9 0.9 0.9 0.9 0.9 0.9 0.9 0.9 0.89 0.89 0.89 0.89 0.89 0.89 0.89 0.89 0.89"/><feFuncG type="table" tableValues="1 1 1 1 1 1 1 1 1 1 1 1 1 1 1 1 1 1 1 1 1 1 1 1 1 1 1 1 1 1 1 1 1 1 1 1 1 1 1 1 1 0.33 0.33 0.34 0.34 0.35 0.35 0.35 0.36 0.36 0.36 0.37 0.37 0.38 0.38 0.38 0.39 0.39 0.53 0.67 0.75 0.75 0.75 0.75 0.75 0.75 0.75 0.78 0.85 0.93 0.93 0.93 0.93 0.93 0.76 0.59 0.44 0.3 0.16 0.16 0.15 0.15 0.15 0.15 0.15 0.14 0.14 0.14 0.14 0.14 0.14 0.13 0.13 0.13 0.13 0.13 0.12 0.12 0.12 0.12 0.12"/><feFuncB type="table" tableValues="1 1 1 1 1 1 1 1 1 1 1 1 1 1 1 1 1 1 1 1 1 1 1 1 1 1 1 1 1 1 1 1 1 1 1 1 1 1 1 1 1 0.64 0.65 0.65 0.65 0.66 0.66 0.67 0.67 0.67 0.68 0.68 0.69 0.69 0.69 0.7 0.7 0.71 0.79 0.88 0.93 0.76 0.43 0.27 0.27 0.27 0.27 0.24 0.17 0.1 0.1 0.1 0.1 0.1 0.11 0.12 0.12 0.12 0.12 0.12 0.12 0.12 0.12 0.12 0.12 0.12 0.11 0.11 0.11 0.11 0.11 0.11 0.11 0.11 0.11 0.11 0.11 0.11 0.11 0.11 0.11"/></feComponentTransfer></filter>
</defs>
<text x="3.6" y="42.0" font-size="55.12" font-weight="bold" textLength="39.3" lengthAdjust="spacingAndGlyphs">A</text>
<g transform="translate(0,0)" fill="none" stroke="#000" stroke-width="1.7" stroke-linecap="round" stroke-linejoin="round">
<path d="M179.5 174.6C176 164 160 152.5 140.4 152.3C122 152 108 168 100 174.5C92 181 82 186.8 73.5 181.3C70.5 181 71.5 185 77 187.7C86 190.5 96 185 104 179C114 171 124 160.8 138.2 160.5C152 160.5 160 166 166.5 174.6"/>
<path d="M124 222.5C126 190 150 175.2 173 175.2C200 175.2 220 192 222 223.6"/>
<path d="M162.3 243.5A22.6 22.8 0 1 0 134.5 262L139.8 262.6"/>
<path d="M182.5 243A23 22.8 0 1 1 212.5 262L207.3 262.6"/>
<path d="M136 262.3C142 275 150 288 160 295.5C166 300 170 301 173.5 301C177 301 181 300 187 294.5C197 286 205 273 211 262.3"/>
<path d="M163.8 287.8Q147 277.5 131.6 287.3M165.4 291.1Q145 283 136.5 298.5M165.4 293.3Q149 286.8 145.8 306.4M182.3 287.8Q199 277.5 215.5 287.3M180.6 291.1Q202.3 283 211.1 298.5M180.6 293.3Q196.7 286.8 200.8 306.4" stroke-width="1.5"/>
<ellipse cx="159.4" cy="271.2" rx="3" ry="4.9" fill="#000"/><ellipse cx="186.1" cy="271" rx="3.2" ry="4.9" fill="#000"/>
<ellipse cx="160" cy="270" rx="1" ry="2" fill="#fff" stroke="none"/><ellipse cx="186.4" cy="270" rx="1.2" ry="2" fill="#fff" stroke="none"/>
<path d="M168.7 289Q173.6 287.4 178.8 289Q178.6 294.6 173.6 296.8Q169 294.6 168.7 289Z" fill="#000" stroke-width="1"/>
</g>
<g transform="translate(2,220)" fill="none" stroke="#000" stroke-width="1.7" stroke-linecap="round" stroke-linejoin="round">
<path d="M179.5 174.6C176 164 160 152.5 140.4 152.3C122 152 108 168 100 174.5C92 181 82 186.8 73.5 181.3C70.5 181 71.5 185 77 187.7C86 190.5 96 185 104 179C114 171 124 160.8 138.2 160.5C152 160.5 160 166 166.5 174.6"/>
<path d="M124 222.5C126 190 150 175.2 173 175.2C200 175.2 220 192 222 223.6"/>
<path d="M162.3 243.5A22.6 22.8 0 1 0 134.5 262L139.8 262.6"/>
<path d="M182.5 243A23 22.8 0 1 1 212.5 262L207.3 262.6"/>
<path d="M136 262.3C142 275 150 288 160 295.5C166 300 170 301 173.5 301C177 301 181 300 187 294.5C197 286 205 273 211 262.3"/>
<path d="M163.8 287.8Q147 277.5 131.6 287.3M165.4 291.1Q145 283 136.5 298.5M165.4 293.3Q149 286.8 145.8 306.4M182.3 287.8Q199 277.5 215.5 287.3M180.6 291.1Q202.3 283 211.1 298.5M180.6 293.3Q196.7 286.8 200.8 306.4" stroke-width="1.5"/>
<ellipse cx="159.4" cy="271.2" rx="3" ry="4.9" fill="#000"/><ellipse cx="186.1" cy="271" rx="3.2" ry="4.9" fill="#000"/>
<ellipse cx="160" cy="270" rx="1" ry="2" fill="#fff" stroke="none"/><ellipse cx="186.4" cy="270" rx="1.2" ry="2" fill="#fff" stroke="none"/>
<path d="M168.7 289Q173.6 287.4 178.8 289Q178.6 294.6 173.6 296.8Q169 294.6 168.7 289Z" fill="#000" stroke-width="1"/>
</g>
<text x="302.7" y="165.7" font-size="50.96" font-weight="bold" font-style="italic" fill="#3F6DAA" textLength="137.5" lengthAdjust="spacingAndGlyphs">Tet2/3</text>
<text x="441.4" y="165.7" font-size="50.96" font-weight="bold" fill="#3F6DAA" textLength="94.1" lengthAdjust="spacingAndGlyphs">-WT</text>
<text x="301.9" y="221.3" font-size="49.92" font-style="italic" textLength="89.7" lengthAdjust="spacingAndGlyphs">Tet2</text>
<text x="394.0" y="205.2" font-size="31.2" font-style="italic" textLength="41.7" lengthAdjust="spacingAndGlyphs">fl/fl</text>
<text x="436.9" y="221.3" font-size="49.92" font-style="italic" textLength="94.7" lengthAdjust="spacingAndGlyphs">Tet3</text>
<text x="532.7" y="205.2" font-size="31.2" font-style="italic" textLength="39.1" lengthAdjust="spacingAndGlyphs">fl/fl</text>
<text x="299.6" y="282.4" font-size="49.92" font-style="italic" textLength="391.6" lengthAdjust="spacingAndGlyphs">Rosa26-LSL-YFP</text>
<text x="301.9" y="399.0" font-size="50.96" font-weight="bold" font-style="italic" fill="#D0282E" textLength="138.3" lengthAdjust="spacingAndGlyphs">Tet2/3</text>
<text x="441.9" y="399.0" font-size="50.96" font-weight="bold" fill="#D0282E" textLength="126.8" lengthAdjust="spacingAndGlyphs">-DKO</text>
<text x="300.9" y="455.1" font-size="49.92" font-style="italic" textLength="77.9" lengthAdjust="spacingAndGlyphs">Cre</text>
<text x="381.0" y="439.6" font-size="31.2" font-style="italic" textLength="80.8" lengthAdjust="spacingAndGlyphs">ERT2</text>
<text x="479.9" y="455.1" font-size="49.92" font-style="italic" textLength="90.3" lengthAdjust="spacingAndGlyphs">Tet2</text>
<text x="573.0" y="439.6" font-size="31.2" font-style="italic" textLength="39.9" lengthAdjust="spacingAndGlyphs">fl/fl</text>
<text x="615.9" y="455.1" font-size="49.92" font-style="italic" textLength="92.6" lengthAdjust="spacingAndGlyphs">Tet3</text>
<text x="710.8" y="439.6" font-size="31.2" font-style="italic" textLength="38.2" lengthAdjust="spacingAndGlyphs">fl/fl</text>
<text x="299.6" y="516.3" font-size="49.92" font-style="italic" textLength="391.6" lengthAdjust="spacingAndGlyphs">Rosa26-LSL-YFP</text>
<text x="608.4" y="652.6" font-size="50.96" textLength="184.8" lengthAdjust="spacingAndGlyphs">Analysis</text>
<text x="47.3" y="691.7" font-size="50.96" textLength="109.6" lengthAdjust="spacingAndGlyphs">Time</text>
<text x="38.8" y="746.3" font-size="50.96" textLength="116.3" lengthAdjust="spacingAndGlyphs">(day)</text>
<text x="175.8" y="704.3" font-size="50.96" textLength="21.6" lengthAdjust="spacingAndGlyphs">1</text>
<text x="434.5" y="704.3" font-size="50.96" textLength="28.1" lengthAdjust="spacingAndGlyphs">7</text>
<text x="679.4" y="704.3" font-size="50.96" textLength="54.1" lengthAdjust="spacingAndGlyphs">14</text>
<rect x="184.2" y="717.0" width="518.1" height="12.5" fill="#000"/>
<path d="M184.2 724.0l13 24h-6.7v19h-12.6v-19h-6.7z" fill="#EE3124"/>
<path d="M229.6 724.0l13 24h-6.7v19h-12.6v-19h-6.7z" fill="#EE3124"/>
<path d="M275.0 724.0l13 24h-6.7v19h-12.6v-19h-6.7z" fill="#EE3124"/>
<path d="M320.4 724.0l13 24h-6.7v19h-12.6v-19h-6.7z" fill="#EE3124"/>
<path d="M365.4 724.0l13 24h-6.7v19h-12.6v-19h-6.7z" fill="#EE3124"/>
<path d="M442.8 724.0l13 24h-6.7v19h-12.6v-19h-6.7z" fill="#3B73B9"/>
<path d="M702.3 724.0l13 24h-6.7v19h-12.6v-19h-6.7z" fill="#3B73B9"/>
<text x="160.9" y="835.5" font-size="50.96" textLength="229.3" lengthAdjust="spacingAndGlyphs">Tamoxifen</text>
<g transform="translate(431.4,791.5) rotate(-33.8)" fill="none" stroke="#000" stroke-width="2.7" stroke-linejoin="round" stroke-linecap="round">
<path d="M0 0V20"/>
<path d="M-3.5 20h7l3 10h-13z"/>
<path d="M-6.5 30C-11 31 -14.5 33 -14.5 38V80H14.5V38C14.5 33 11 31 6.5 30"/>
<rect x="-20.5" y="80" width="41" height="7" rx="3"/>
<path d="M-5.8 87V97.5M5.8 87V97.5"/>
<rect x="-16" y="97.5" width="32" height="7.5" rx="3"/>
<path d="M14 42H7M14 48H3M14 54H7M14 60H3M14 66H7M14 72H3M14 77H8" stroke-width="2"/>
</g>
<text x="361.8" y="949.0" font-size="50.96" textLength="187.1" lengthAdjust="spacingAndGlyphs">NP-OVA</text>
<text x="250.2" y="1004.5" font-size="50.96" textLength="410.1" lengthAdjust="spacingAndGlyphs">immunization (f.p.)</text>
<text x="2.0" y="1140.0" font-size="55.12" font-weight="bold" textLength="43.6" lengthAdjust="spacingAndGlyphs">G</text>
<text x="382.2" y="1222.9" font-size="50.96" textLength="149.0" lengthAdjust="spacingAndGlyphs">Isolate</text>
<text x="382.8" y="1277.6" font-size="50.96" textLength="146.8" lengthAdjust="spacingAndGlyphs">B cells</text>
<text x="560.5" y="1270.4" font-size="50.96" textLength="184.8" lengthAdjust="spacingAndGlyphs">Analysis</text>
<text x="45.2" y="1319.6" font-size="50.96" textLength="108.3" lengthAdjust="spacingAndGlyphs">Time</text>
<text x="38.0" y="1375.2" font-size="50.96" textLength="115.6" lengthAdjust="spacingAndGlyphs">(day)</text>
<text x="185.1" y="1319.6" font-size="50.96" textLength="21.6" lengthAdjust="spacingAndGlyphs">1</text>
<text x="450.8" y="1327.2" font-size="50.96" textLength="28.4" lengthAdjust="spacingAndGlyphs">7</text>
<text x="614.9" y="1330.2" font-size="50.96" textLength="45.3" lengthAdjust="spacingAndGlyphs">11</text>
<rect x="200.6" y="1341.1" width="438.6" height="12.3" fill="#000"/>
<path d="M200.6 1347.0l13 24h-6.7v18h-12.6v-18h-6.7z" fill="#EE3124"/>
<path d="M246.0 1347.0l13 24h-6.7v18h-12.6v-18h-6.7z" fill="#EE3124"/>
<path d="M291.4 1347.0l13 24h-6.7v18h-12.6v-18h-6.7z" fill="#EE3124"/>
<path d="M336.8 1347.0l13 24h-6.7v18h-12.6v-18h-6.7z" fill="#EE3124"/>
<path d="M382.3 1347.0l13 24h-6.7v18h-12.6v-18h-6.7z" fill="#EE3124"/>
<path d="M459.6 1347.0l13 24h-6.7v18h-12.6v-18h-6.7z" fill="#3B73B9"/>
<path d="M636.2 1347.0l13 24h-6.7v18h-12.6v-18h-6.7z" fill="#3B73B9"/>
<text x="171.3" y="1458.4" font-size="50.96" textLength="228.0" lengthAdjust="spacingAndGlyphs">Tamoxifen</text>
<line x1="463.8" y1="1391.1" x2="380.6" y2="1507.6" stroke="#000" stroke-width="5" stroke-dasharray="15 8"/>
<text x="171.9" y="1579.5" font-size="50.96" textLength="410.9" lengthAdjust="spacingAndGlyphs">In vitro stimulation</text>
<text x="183.9" y="1634.2" font-size="50.96" textLength="394.5" lengthAdjust="spacingAndGlyphs">with LPS and IL-4</text>
<text x="0.5" y="1726.4" font-size="55.12" font-weight="bold" textLength="40.1" lengthAdjust="spacingAndGlyphs">K</text>
<text x="372.5" y="1792.5" font-size="50.96" textLength="149.0" lengthAdjust="spacingAndGlyphs">Isolate</text>
<text x="373.1" y="1848.0" font-size="50.96" textLength="148.0" lengthAdjust="spacingAndGlyphs">B cells</text>
<text x="575.2" y="1835.4" font-size="50.96" textLength="184.8" lengthAdjust="spacingAndGlyphs">Analysis</text>
<text x="42.2" y="1902.6" font-size="50.96" textLength="108.3" lengthAdjust="spacingAndGlyphs">Time</text>
<text x="35.5" y="1958.6" font-size="50.96" textLength="115.6" lengthAdjust="spacingAndGlyphs">(day)</text>
<text x="181.3" y="1899.7" font-size="50.96" textLength="18.9" lengthAdjust="spacingAndGlyphs">1</text>
<text x="438.2" y="1901.8" font-size="50.96" textLength="28.2" lengthAdjust="spacingAndGlyphs">7</text>
<text x="644.1" y="1898.4" font-size="50.96" textLength="51.3" lengthAdjust="spacingAndGlyphs">12</text>
<rect x="187.1" y="1913.2" width="486.6" height="12.6" fill="#000"/>
<path d="M188.0 1918.6l13 24h-6.7v19h-12.6v-19h-6.7z" fill="#EE3124"/>
<path d="M233.4 1918.6l13 24h-6.7v19h-12.6v-19h-6.7z" fill="#EE3124"/>
<path d="M278.8 1918.6l13 24h-6.7v19h-12.6v-19h-6.7z" fill="#EE3124"/>
<path d="M323.8 1918.6l13 24h-6.7v19h-12.6v-19h-6.7z" fill="#EE3124"/>
<path d="M369.2 1918.6l13 24h-6.7v19h-12.6v-19h-6.7z" fill="#EE3124"/>
<path d="M447.0 1918.6l13 24h-6.7v19h-12.6v-19h-6.7z" fill="#3B73B9"/>
<path d="M664.4 1918.6l13 24h-6.7v19h-12.6v-19h-6.7z" fill="#3B73B9"/>
<text x="166.3" y="2030.0" font-size="50.96" textLength="228.0" lengthAdjust="spacingAndGlyphs">Tamoxifen</text>
<line x1="449.1" y1="1964.9" x2="370.0" y2="2077.2" stroke="#000" stroke-width="5" stroke-dasharray="15 8"/>
<text x="137.4" y="2124.7" font-size="50.96" textLength="511.2" lengthAdjust="spacingAndGlyphs">In vitro stimulation with</text>
<text x="218.7" y="2180.6" font-size="50.96" textLength="351.5" lengthAdjust="spacingAndGlyphs">anti-CD40, IL-4,</text>
<text x="274.2" y="2242.4" font-size="50.96" textLength="240.8" lengthAdjust="spacingAndGlyphs">IL-5, TGFβ</text>
<text x="817.3" y="42.3" font-size="55.12" font-weight="bold" textLength="39.7" lengthAdjust="spacingAndGlyphs">B</text>
<text x="1254.1" y="49.6" font-size="50.96" textLength="152.2" lengthAdjust="spacingAndGlyphs">In vivo</text>
<rect x="994.0" y="79.3" width="692.4" height="6.2" fill="#000"/>
<text x="1029.7" y="153.0" font-size="52.0" font-style="italic" textLength="137.4" lengthAdjust="spacingAndGlyphs">Tet2/3</text>
<text x="1187.3" y="153.0" font-size="52.0" textLength="78.6" lengthAdjust="spacingAndGlyphs">WT</text>
<text x="1390.6" y="153.0" font-size="52.0" font-style="italic" textLength="139.5" lengthAdjust="spacingAndGlyphs">Tet2/3</text>
<text x="1546.8" y="153.0" font-size="52.0" textLength="112.3" lengthAdjust="spacingAndGlyphs">DKO</text>
<text transform="translate(911.8,505.9) rotate(-90)" x="-2.7" y="0" font-size="42.64" font-weight="bold" textLength="334.3" lengthAdjust="spacingAndGlyphs">PerCPC-y5.5-GL7</text>
<text x="989.8" y="570.0" font-size="42.64" font-weight="bold" textLength="215.9" lengthAdjust="spacingAndGlyphs">PECy7-Fas</text>
<rect x="1246.4" y="555.1" width="413.6" height="4.8" fill="#000"/>
<path d="M1658.0 541.8L1689.5 557.5L1658.0 573.2z"/>
<g filter="url(#fb1)" style="isolation:isolate"><rect x="992.1" y="178.3" width="310.0" height="309.5" fill="#000"/><g style="mix-blend-mode:lighten">
<ellipse cx="1118.0" cy="410.0" rx="134.0" ry="86.0" fill="url(#g1)" style="mix-blend-mode:lighten"/>
<ellipse cx="1012.0" cy="442.0" rx="70.0" ry="102.0" fill="url(#g2)" style="mix-blend-mode:lighten"/>
<ellipse cx="1235.0" cy="386.0" rx="46.0" ry="50.0" fill="url(#g3)" style="mix-blend-mode:lighten"/>
<ellipse cx="1208.0" cy="452.0" rx="66.0" ry="64.0" fill="url(#g4)" style="mix-blend-mode:lighten"/>
<ellipse cx="1168.0" cy="352.0" rx="46.0" ry="34.0" fill="url(#g5)" transform="rotate(-25 1168.0 352.0)" style="mix-blend-mode:lighten"/>
<ellipse cx="1090.0" cy="326.0" rx="165.0" ry="80.0" fill="url(#g6)" transform="rotate(-20 1090.0 326.0)" style="mix-blend-mode:lighten"/>
<ellipse cx="1205.6" cy="304.0" rx="82.0" ry="135.0" fill="url(#g7)" style="mix-blend-mode:lighten"/>
<ellipse cx="1108.5" cy="445.0" rx="74.0" ry="105.0" fill="url(#g8)" style="mix-blend-mode:lighten"/>
<ellipse cx="1108.5" cy="445.0" rx="55.5" ry="94.0" fill="url(#g9)" style="mix-blend-mode:lighten"/>
<ellipse cx="1111.5" cy="421.0" rx="34.0" ry="65.0" fill="url(#g10)" style="mix-blend-mode:lighten"/>
<ellipse cx="1111.5" cy="411.0" rx="21.0" ry="38.0" fill="url(#g11)" style="mix-blend-mode:lighten"/>
<ellipse cx="1205.6" cy="304.0" rx="60.0" ry="112.0" fill="url(#g12)" style="mix-blend-mode:lighten"/>
<ellipse cx="1205.6" cy="304.0" rx="24.0" ry="60.0" fill="url(#g13)" style="mix-blend-mode:lighten"/>
<ellipse cx="1205.6" cy="304.0" rx="11.4" ry="30.0" fill="url(#g14)" style="mix-blend-mode:lighten"/>
</g></g>
<ellipse cx="1203.9" cy="289" rx="49.6" ry="78.8" fill="none" stroke="#000" stroke-width="1.5"/>
<rect x="990.4" y="176.6" width="313.5" height="313.0" fill="none" stroke="#000" stroke-width="7.5" stroke-linejoin="round"/>
<path d="M994.8 492.8v6.9M1051.5 492.8v6.9M1127.2 492.8v6.9M1200.0 492.8v6.9M1271.9 492.8v6.9" stroke="#000" stroke-width="1.6" fill="none"/>
<path d="M1074.3 492.8v3.5M1087.6 492.8v3.5M1097.1 492.8v3.5M1104.4 492.8v3.5M1110.4 492.8v3.5M1115.5 492.8v3.5M1119.9 492.8v3.5M1123.7 492.8v3.5M1149.1 492.8v3.5M1161.9 492.8v3.5M1171.0 492.8v3.5M1178.1 492.8v3.5M1183.8 492.8v3.5M1188.7 492.8v3.5M1192.9 492.8v3.5M1196.7 492.8v3.5M1221.6 492.8v3.5M1234.3 492.8v3.5M1243.3 492.8v3.5M1250.3 492.8v3.5M1255.9 492.8v3.5M1260.8 492.8v3.5M1264.9 492.8v3.5M1268.6 492.8v3.5M1293.5 492.8v3.5M1025.4 492.8v3.5M1019.7 492.8v3.5M1028.3 492.8v3.5M1017.0 492.8v3.5M1031.2 492.8v3.5M1014.2 492.8v3.5M1034.1 492.8v3.5M1011.4 492.8v3.5M1037.0 492.8v3.5M1008.6 492.8v3.5M1039.9 492.8v3.5M1005.9 492.8v3.5M1042.8 492.8v3.5M1003.1 492.8v3.5M1045.7 492.8v3.5M1000.3 492.8v3.5M1048.6 492.8v3.5M997.6 492.8v3.5" stroke="#000" stroke-width="1.0" fill="none"/>
<path d="M1022.5 492.8v6.9" stroke="#000" stroke-width="5" fill="none"/>
<path d="M987.1 476.3h-6.9M987.1 426.3h-6.9M987.1 353.6h-6.9M987.1 279.0h-6.9M987.1 207.6h-6.9" stroke="#000" stroke-width="1.6" fill="none"/>
<path d="M987.1 404.4h-3.5M987.1 391.6h-3.5M987.1 382.5h-3.5M987.1 375.5h-3.5M987.1 369.7h-3.5M987.1 364.9h-3.5M987.1 360.6h-3.5M987.1 356.9h-3.5M987.1 331.1h-3.5M987.1 318.0h-3.5M987.1 308.7h-3.5M987.1 301.5h-3.5M987.1 295.5h-3.5M987.1 290.6h-3.5M987.1 286.2h-3.5M987.1 282.4h-3.5M987.1 257.5h-3.5M987.1 244.9h-3.5M987.1 236.0h-3.5M987.1 229.1h-3.5M987.1 223.4h-3.5M987.1 218.7h-3.5M987.1 214.5h-3.5M987.1 210.9h-3.5M987.1 186.1h-3.5M987.1 449.4h-3.5M987.1 454.4h-3.5M987.1 446.9h-3.5M987.1 456.9h-3.5M987.1 444.3h-3.5M987.1 459.3h-3.5M987.1 441.7h-3.5M987.1 461.7h-3.5M987.1 439.1h-3.5M987.1 464.1h-3.5M987.1 436.6h-3.5M987.1 466.6h-3.5M987.1 434.0h-3.5M987.1 469.0h-3.5M987.1 431.4h-3.5M987.1 471.4h-3.5M987.1 428.9h-3.5M987.1 473.9h-3.5" stroke="#000" stroke-width="1.0" fill="none"/>
<path d="M987.1 452.0h-6.9" stroke="#000" stroke-width="5" fill="none"/>
<text x="1025.1" y="522.9" font-size="15.2" fill="#1c1c1c" stroke="#1c1c1c" stroke-width="0.35">0</text>
<text x="1125.4" y="523.6" font-size="15.2" fill="#1c1c1c" stroke="#1c1c1c" stroke-width="0.35">10<tspan dx="0.3" dy="-10.5" font-size="14.0">3</tspan></text>
<text x="1198.2" y="523.6" font-size="15.2" fill="#1c1c1c" stroke="#1c1c1c" stroke-width="0.35">10<tspan dx="0.3" dy="-10.5" font-size="14.0">4</tspan></text>
<text x="1270.1" y="523.6" font-size="15.2" fill="#1c1c1c" stroke="#1c1c1c" stroke-width="0.35">10<tspan dx="0.3" dy="-10.5" font-size="14.0">5</tspan></text>
<text x="956.6" y="456.8" font-size="15.2" fill="#1c1c1c" stroke="#1c1c1c" stroke-width="0.35">0</text>
<text x="948.2" y="362.5" font-size="15.2" fill="#1c1c1c" stroke="#1c1c1c" stroke-width="0.35">10<tspan dx="0.3" dy="-10.5" font-size="14.0">3</tspan></text>
<text x="948.2" y="287.9" font-size="15.2" fill="#1c1c1c" stroke="#1c1c1c" stroke-width="0.35">10<tspan dx="0.3" dy="-10.5" font-size="14.0">4</tspan></text>
<text x="948.2" y="216.5" font-size="15.2" fill="#1c1c1c" stroke="#1c1c1c" stroke-width="0.35">10<tspan dx="0.3" dy="-10.5" font-size="14.0">5</tspan></text>
<text x="1051.9" y="234.0" font-size="45.76" textLength="61.5" lengthAdjust="spacingAndGlyphs">9.5</text>
<g filter="url(#fb2)" style="isolation:isolate"><rect x="1366.8" y="178.3" width="309.9" height="309.5" fill="#000"/><g style="mix-blend-mode:lighten">
<ellipse cx="1493.0" cy="410.0" rx="134.0" ry="86.0" fill="url(#g15)" style="mix-blend-mode:lighten"/>
<ellipse cx="1387.0" cy="442.0" rx="70.0" ry="102.0" fill="url(#g16)" style="mix-blend-mode:lighten"/>
<ellipse cx="1610.0" cy="386.0" rx="46.0" ry="50.0" fill="url(#g17)" style="mix-blend-mode:lighten"/>
<ellipse cx="1583.0" cy="452.0" rx="66.0" ry="64.0" fill="url(#g18)" style="mix-blend-mode:lighten"/>
<ellipse cx="1543.0" cy="352.0" rx="46.0" ry="34.0" fill="url(#g19)" transform="rotate(-25 1543.0 352.0)" style="mix-blend-mode:lighten"/>
<ellipse cx="1465.0" cy="326.0" rx="165.0" ry="80.0" fill="url(#g20)" transform="rotate(-20 1465.0 326.0)" style="mix-blend-mode:lighten"/>
<ellipse cx="1567.0" cy="308.0" rx="82.0" ry="135.0" fill="url(#g21)" style="mix-blend-mode:lighten"/>
<ellipse cx="1482.5" cy="440.5" rx="74.0" ry="105.0" fill="url(#g22)" style="mix-blend-mode:lighten"/>
<ellipse cx="1482.5" cy="440.5" rx="55.5" ry="94.0" fill="url(#g23)" style="mix-blend-mode:lighten"/>
<ellipse cx="1485.5" cy="416.5" rx="34.0" ry="65.0" fill="url(#g24)" style="mix-blend-mode:lighten"/>
<ellipse cx="1485.5" cy="406.5" rx="21.0" ry="38.0" fill="url(#g25)" style="mix-blend-mode:lighten"/>
<ellipse cx="1567.0" cy="308.0" rx="46.8" ry="87.4" fill="url(#g26)" style="mix-blend-mode:lighten"/>
<ellipse cx="1567.0" cy="308.0" rx="18.7" ry="46.8" fill="url(#g27)" style="mix-blend-mode:lighten"/>
<ellipse cx="1567.0" cy="308.0" rx="8.9" ry="23.4" fill="url(#g28)" style="mix-blend-mode:lighten"/>
</g></g>
<ellipse cx="1580" cy="288.8" rx="49" ry="78.5" fill="none" stroke="#000" stroke-width="1.5"/>
<rect x="1365.0" y="176.6" width="313.4" height="313.0" fill="none" stroke="#000" stroke-width="7.5" stroke-linejoin="round"/>
<path d="M1369.5 492.8v6.9M1426.2 492.8v6.9M1501.9 492.8v6.9M1574.7 492.8v6.9M1646.6 492.8v6.9" stroke="#000" stroke-width="1.6" fill="none"/>
<path d="M1449.0 492.8v3.5M1462.3 492.8v3.5M1471.8 492.8v3.5M1479.1 492.8v3.5M1485.1 492.8v3.5M1490.2 492.8v3.5M1494.6 492.8v3.5M1498.4 492.8v3.5M1523.8 492.8v3.5M1536.6 492.8v3.5M1545.7 492.8v3.5M1552.8 492.8v3.5M1558.5 492.8v3.5M1563.4 492.8v3.5M1567.6 492.8v3.5M1571.4 492.8v3.5M1596.3 492.8v3.5M1609.0 492.8v3.5M1618.0 492.8v3.5M1625.0 492.8v3.5M1630.6 492.8v3.5M1635.5 492.8v3.5M1639.6 492.8v3.5M1643.3 492.8v3.5M1668.2 492.8v3.5M1400.1 492.8v3.5M1394.4 492.8v3.5M1403.0 492.8v3.5M1391.7 492.8v3.5M1405.9 492.8v3.5M1388.9 492.8v3.5M1408.8 492.8v3.5M1386.1 492.8v3.5M1411.7 492.8v3.5M1383.3 492.8v3.5M1414.6 492.8v3.5M1380.6 492.8v3.5M1417.5 492.8v3.5M1377.8 492.8v3.5M1420.4 492.8v3.5M1375.0 492.8v3.5M1423.3 492.8v3.5M1372.3 492.8v3.5" stroke="#000" stroke-width="1.0" fill="none"/>
<path d="M1397.2 492.8v6.9" stroke="#000" stroke-width="5" fill="none"/>
<path d="M1361.8 476.3h-6.9M1361.8 426.3h-6.9M1361.8 353.6h-6.9M1361.8 279.0h-6.9M1361.8 207.6h-6.9" stroke="#000" stroke-width="1.6" fill="none"/>
<path d="M1361.8 404.4h-3.5M1361.8 391.6h-3.5M1361.8 382.5h-3.5M1361.8 375.5h-3.5M1361.8 369.7h-3.5M1361.8 364.9h-3.5M1361.8 360.6h-3.5M1361.8 356.9h-3.5M1361.8 331.1h-3.5M1361.8 318.0h-3.5M1361.8 308.7h-3.5M1361.8 301.5h-3.5M1361.8 295.5h-3.5M1361.8 290.6h-3.5M1361.8 286.2h-3.5M1361.8 282.4h-3.5M1361.8 257.5h-3.5M1361.8 244.9h-3.5M1361.8 236.0h-3.5M1361.8 229.1h-3.5M1361.8 223.4h-3.5M1361.8 218.7h-3.5M1361.8 214.5h-3.5M1361.8 210.9h-3.5M1361.8 186.1h-3.5M1361.8 449.4h-3.5M1361.8 454.4h-3.5M1361.8 446.9h-3.5M1361.8 456.9h-3.5M1361.8 444.3h-3.5M1361.8 459.3h-3.5M1361.8 441.7h-3.5M1361.8 461.7h-3.5M1361.8 439.1h-3.5M1361.8 464.1h-3.5M1361.8 436.6h-3.5M1361.8 466.6h-3.5M1361.8 434.0h-3.5M1361.8 469.0h-3.5M1361.8 431.4h-3.5M1361.8 471.4h-3.5M1361.8 428.9h-3.5M1361.8 473.9h-3.5" stroke="#000" stroke-width="1.0" fill="none"/>
<path d="M1361.8 452.0h-6.9" stroke="#000" stroke-width="5" fill="none"/>
<text x="1399.8" y="522.9" font-size="15.2" fill="#1c1c1c" stroke="#1c1c1c" stroke-width="0.35">0</text>
<text x="1500.1" y="523.6" font-size="15.2" fill="#1c1c1c" stroke="#1c1c1c" stroke-width="0.35">10<tspan dx="0.3" dy="-10.5" font-size="14.0">3</tspan></text>
<text x="1572.9" y="523.6" font-size="15.2" fill="#1c1c1c" stroke="#1c1c1c" stroke-width="0.35">10<tspan dx="0.3" dy="-10.5" font-size="14.0">4</tspan></text>
<text x="1644.8" y="523.6" font-size="15.2" fill="#1c1c1c" stroke="#1c1c1c" stroke-width="0.35">10<tspan dx="0.3" dy="-10.5" font-size="14.0">5</tspan></text>
<text x="1331.3" y="456.8" font-size="15.2" fill="#1c1c1c" stroke="#1c1c1c" stroke-width="0.35">0</text>
<text x="1322.9" y="362.5" font-size="15.2" fill="#1c1c1c" stroke="#1c1c1c" stroke-width="0.35">10<tspan dx="0.3" dy="-10.5" font-size="14.0">3</tspan></text>
<text x="1322.9" y="287.9" font-size="15.2" fill="#1c1c1c" stroke="#1c1c1c" stroke-width="0.35">10<tspan dx="0.3" dy="-10.5" font-size="14.0">4</tspan></text>
<text x="1322.9" y="216.5" font-size="15.2" fill="#1c1c1c" stroke="#1c1c1c" stroke-width="0.35">10<tspan dx="0.3" dy="-10.5" font-size="14.0">5</tspan></text>
<text x="1416.7" y="234.0" font-size="45.76" textLength="84.4" lengthAdjust="spacingAndGlyphs">10.0</text>
<g filter="url(#fb3)" style="isolation:isolate"><rect x="988.2" y="609.3" width="316.9" height="317.1" fill="#000"/><g style="mix-blend-mode:lighten">
<ellipse cx="1218.0" cy="790.0" rx="66.0" ry="165.0" fill="url(#g29)" style="mix-blend-mode:lighten"/>
<ellipse cx="1216.0" cy="822.0" rx="54.0" ry="125.0" fill="url(#g30)" style="mix-blend-mode:lighten"/>
<ellipse cx="1217.0" cy="832.0" rx="30.0" ry="78.0" fill="url(#g31)" style="mix-blend-mode:lighten"/>
<ellipse cx="1085.0" cy="700.0" rx="82.0" ry="76.0" fill="url(#g32)" style="mix-blend-mode:lighten"/>
<ellipse cx="1100.0" cy="748.0" rx="68.0" ry="56.0" fill="url(#g33)" style="mix-blend-mode:lighten"/>
<ellipse cx="1221.0" cy="745.0" rx="27.0" ry="62.0" fill="url(#g34)" style="mix-blend-mode:lighten"/>
<ellipse cx="1100.0" cy="852.0" rx="64.0" ry="105.0" fill="url(#g35)" style="mix-blend-mode:lighten"/>
<ellipse cx="1105.0" cy="858.0" rx="28.0" ry="62.0" fill="url(#g36)" style="mix-blend-mode:lighten"/>
</g></g>
<rect x="1158.3" y="611.3" width="2.6" height="313.1" fill="#000"/>
<rect x="990.2" y="798.3" width="312.9" height="1.4" fill="#000"/>
<rect x="986.8" y="607.9" width="319.7" height="319.9" fill="none" stroke="#000" stroke-width="6.8" stroke-linejoin="round"/>
<path d="M1012.8 930.7v7.4M1049.5 930.7v7.4M1123.6 930.7v7.4M1201.9 930.7v7.4M1275.5 930.7v7.4" stroke="#000" stroke-width="1.6" fill="none"/>
<path d="M1071.8 930.7v3.5M1084.9 930.7v3.5M1094.1 930.7v3.5M1101.3 930.7v3.5M1107.2 930.7v3.5M1112.1 930.7v3.5M1116.4 930.7v3.5M1120.2 930.7v3.5M1147.2 930.7v3.5M1161.0 930.7v3.5M1170.7 930.7v3.5M1178.3 930.7v3.5M1184.5 930.7v3.5M1189.8 930.7v3.5M1194.3 930.7v3.5M1198.3 930.7v3.5M1224.1 930.7v3.5M1237.0 930.7v3.5M1246.2 930.7v3.5M1253.3 930.7v3.5M1259.2 930.7v3.5M1264.1 930.7v3.5M1268.4 930.7v3.5M1272.1 930.7v3.5M1297.7 930.7v3.5M1033.1 930.7v3.5M1029.5 930.7v3.5M1034.9 930.7v3.5M1027.6 930.7v3.5M1036.8 930.7v3.5M1025.8 930.7v3.5M1038.6 930.7v3.5M1023.9 930.7v3.5M1040.4 930.7v3.5M1022.0 930.7v3.5M1042.2 930.7v3.5M1020.2 930.7v3.5M1044.0 930.7v3.5M1018.3 930.7v3.5M1045.9 930.7v3.5M1016.5 930.7v3.5M1047.7 930.7v3.5M1014.6 930.7v3.5M990.5 930.7v3.5" stroke="#000" stroke-width="1.0" fill="none"/>
<path d="M1031.3 930.7v7.4" stroke="#000" stroke-width="5" fill="none"/>
<path d="M983.9 913.3h-7.4M983.9 862.1h-7.4M983.9 788.7h-7.4M983.9 711.7h-7.4M983.9 638.0h-7.4" stroke="#000" stroke-width="1.6" fill="none"/>
<path d="M983.9 840.0h-3.5M983.9 827.1h-3.5M983.9 817.9h-3.5M983.9 810.8h-3.5M983.9 805.0h-3.5M983.9 800.1h-3.5M983.9 795.8h-3.5M983.9 792.1h-3.5M983.9 765.5h-3.5M983.9 752.0h-3.5M983.9 742.3h-3.5M983.9 734.9h-3.5M983.9 728.8h-3.5M983.9 723.6h-3.5M983.9 719.2h-3.5M983.9 715.2h-3.5M983.9 689.5h-3.5M983.9 676.5h-3.5M983.9 667.3h-3.5M983.9 660.2h-3.5M983.9 654.4h-3.5M983.9 649.4h-3.5M983.9 645.1h-3.5M983.9 641.4h-3.5M983.9 615.8h-3.5M983.9 886.0h-3.5M983.9 891.1h-3.5M983.9 883.3h-3.5M983.9 893.5h-3.5M983.9 880.6h-3.5M983.9 896.0h-3.5M983.9 878.0h-3.5M983.9 898.5h-3.5M983.9 875.4h-3.5M983.9 901.0h-3.5M983.9 872.7h-3.5M983.9 903.4h-3.5M983.9 870.1h-3.5M983.9 905.9h-3.5M983.9 867.4h-3.5M983.9 908.4h-3.5M983.9 864.8h-3.5M983.9 910.8h-3.5" stroke="#000" stroke-width="1.0" fill="none"/>
<path d="M983.9 888.6h-7.4" stroke="#000" stroke-width="5" fill="none"/>
<text x="1033.9" y="960.8" font-size="15.2" fill="#1c1c1c" stroke="#1c1c1c" stroke-width="0.35">0</text>
<text x="1121.8" y="961.5" font-size="15.2" fill="#1c1c1c" stroke="#1c1c1c" stroke-width="0.35">10<tspan dx="0.3" dy="-10.5" font-size="14.0">3</tspan></text>
<text x="1200.1" y="961.5" font-size="15.2" fill="#1c1c1c" stroke="#1c1c1c" stroke-width="0.35">10<tspan dx="0.3" dy="-10.5" font-size="14.0">4</tspan></text>
<text x="1273.7" y="961.5" font-size="15.2" fill="#1c1c1c" stroke="#1c1c1c" stroke-width="0.35">10<tspan dx="0.3" dy="-10.5" font-size="14.0">5</tspan></text>
<text x="953.4" y="893.4" font-size="15.2" fill="#1c1c1c" stroke="#1c1c1c" stroke-width="0.35">0</text>
<text x="945.0" y="797.6" font-size="15.2" fill="#1c1c1c" stroke="#1c1c1c" stroke-width="0.35">10<tspan dx="0.3" dy="-10.5" font-size="14.0">3</tspan></text>
<text x="945.0" y="720.6" font-size="15.2" fill="#1c1c1c" stroke="#1c1c1c" stroke-width="0.35">10<tspan dx="0.3" dy="-10.5" font-size="14.0">4</tspan></text>
<text x="945.0" y="646.9" font-size="15.2" fill="#1c1c1c" stroke="#1c1c1c" stroke-width="0.35">10<tspan dx="0.3" dy="-10.5" font-size="14.0">5</tspan></text>
<text x="991.0" y="666.5" font-size="45.76" textLength="49.6" lengthAdjust="spacingAndGlyphs">12</text>
<text x="1226.0" y="666.5" font-size="45.76" textLength="49.6" lengthAdjust="spacingAndGlyphs">17</text>
<text x="991.5" y="896.4" font-size="45.76" textLength="44.8" lengthAdjust="spacingAndGlyphs">31</text>
<text x="1225.7" y="896.4" font-size="45.76" textLength="49.0" lengthAdjust="spacingAndGlyphs">40</text>
<g filter="url(#fb4)" style="isolation:isolate"><rect x="1363.6" y="615.3" width="316.6" height="317.6" fill="#000"/><g style="mix-blend-mode:lighten">
<ellipse cx="1462.0" cy="800.0" rx="100.0" ry="150.0" fill="url(#g37)" style="mix-blend-mode:lighten"/>
<ellipse cx="1462.0" cy="815.0" rx="80.0" ry="118.0" fill="url(#g38)" style="mix-blend-mode:lighten"/>
<ellipse cx="1462.0" cy="820.0" rx="45.0" ry="78.0" fill="url(#g39)" style="mix-blend-mode:lighten"/>
<ellipse cx="1605.0" cy="805.0" rx="55.0" ry="135.0" fill="url(#g40)" style="mix-blend-mode:lighten"/>
<ellipse cx="1603.0" cy="815.0" rx="36.0" ry="100.0" fill="url(#g41)" style="mix-blend-mode:lighten"/>
<ellipse cx="1604.0" cy="806.0" rx="17.0" ry="56.0" fill="url(#g42)" style="mix-blend-mode:lighten"/>
</g></g>
<rect x="1534.4" y="617.3" width="2.6" height="313.6" fill="#000"/>
<rect x="1365.6" y="804.5" width="312.6" height="1.4" fill="#000"/>
<rect x="1362.2" y="613.9" width="319.4" height="320.4" fill="none" stroke="#000" stroke-width="6.8" stroke-linejoin="round"/>
<path d="M1388.1 937.2v7.4M1424.8 937.2v7.4M1498.9 937.2v7.4M1577.2 937.2v7.4M1650.8 937.2v7.4" stroke="#000" stroke-width="1.6" fill="none"/>
<path d="M1447.1 937.2v3.5M1460.2 937.2v3.5M1469.4 937.2v3.5M1476.6 937.2v3.5M1482.5 937.2v3.5M1487.4 937.2v3.5M1491.7 937.2v3.5M1495.5 937.2v3.5M1522.5 937.2v3.5M1536.3 937.2v3.5M1546.0 937.2v3.5M1553.6 937.2v3.5M1559.8 937.2v3.5M1565.1 937.2v3.5M1569.6 937.2v3.5M1573.6 937.2v3.5M1599.4 937.2v3.5M1612.3 937.2v3.5M1621.5 937.2v3.5M1628.6 937.2v3.5M1634.5 937.2v3.5M1639.4 937.2v3.5M1643.7 937.2v3.5M1647.4 937.2v3.5M1673.0 937.2v3.5M1408.4 937.2v3.5M1404.8 937.2v3.5M1410.2 937.2v3.5M1402.9 937.2v3.5M1412.1 937.2v3.5M1401.0 937.2v3.5M1413.9 937.2v3.5M1399.2 937.2v3.5M1415.7 937.2v3.5M1397.3 937.2v3.5M1417.5 937.2v3.5M1395.5 937.2v3.5M1419.3 937.2v3.5M1393.6 937.2v3.5M1421.2 937.2v3.5M1391.8 937.2v3.5M1423.0 937.2v3.5M1389.9 937.2v3.5M1365.8 937.2v3.5" stroke="#000" stroke-width="1.0" fill="none"/>
<path d="M1406.6 937.2v7.4" stroke="#000" stroke-width="5" fill="none"/>
<path d="M1359.3 919.3h-7.4M1359.3 868.1h-7.4M1359.3 794.7h-7.4M1359.3 717.7h-7.4M1359.3 644.0h-7.4" stroke="#000" stroke-width="1.6" fill="none"/>
<path d="M1359.3 846.0h-3.5M1359.3 833.1h-3.5M1359.3 823.9h-3.5M1359.3 816.8h-3.5M1359.3 811.0h-3.5M1359.3 806.1h-3.5M1359.3 801.8h-3.5M1359.3 798.1h-3.5M1359.3 771.5h-3.5M1359.3 758.0h-3.5M1359.3 748.3h-3.5M1359.3 740.9h-3.5M1359.3 734.8h-3.5M1359.3 729.6h-3.5M1359.3 725.2h-3.5M1359.3 721.2h-3.5M1359.3 695.5h-3.5M1359.3 682.5h-3.5M1359.3 673.3h-3.5M1359.3 666.2h-3.5M1359.3 660.4h-3.5M1359.3 655.4h-3.5M1359.3 651.1h-3.5M1359.3 647.4h-3.5M1359.3 621.8h-3.5M1359.3 892.0h-3.5M1359.3 897.1h-3.5M1359.3 889.3h-3.5M1359.3 899.5h-3.5M1359.3 886.6h-3.5M1359.3 902.0h-3.5M1359.3 884.0h-3.5M1359.3 904.5h-3.5M1359.3 881.4h-3.5M1359.3 907.0h-3.5M1359.3 878.7h-3.5M1359.3 909.4h-3.5M1359.3 876.1h-3.5M1359.3 911.9h-3.5M1359.3 873.4h-3.5M1359.3 914.4h-3.5M1359.3 870.8h-3.5M1359.3 916.8h-3.5" stroke="#000" stroke-width="1.0" fill="none"/>
<path d="M1359.3 894.6h-7.4" stroke="#000" stroke-width="5" fill="none"/>
<text x="1409.2" y="967.3" font-size="15.2" fill="#1c1c1c" stroke="#1c1c1c" stroke-width="0.35">0</text>
<text x="1497.1" y="968.0" font-size="15.2" fill="#1c1c1c" stroke="#1c1c1c" stroke-width="0.35">10<tspan dx="0.3" dy="-10.5" font-size="14.0">3</tspan></text>
<text x="1575.4" y="968.0" font-size="15.2" fill="#1c1c1c" stroke="#1c1c1c" stroke-width="0.35">10<tspan dx="0.3" dy="-10.5" font-size="14.0">4</tspan></text>
<text x="1649.0" y="968.0" font-size="15.2" fill="#1c1c1c" stroke="#1c1c1c" stroke-width="0.35">10<tspan dx="0.3" dy="-10.5" font-size="14.0">5</tspan></text>
<text x="1328.8" y="899.4" font-size="15.2" fill="#1c1c1c" stroke="#1c1c1c" stroke-width="0.35">0</text>
<text x="1320.4" y="803.6" font-size="15.2" fill="#1c1c1c" stroke="#1c1c1c" stroke-width="0.35">10<tspan dx="0.3" dy="-10.5" font-size="14.0">3</tspan></text>
<text x="1320.4" y="726.6" font-size="15.2" fill="#1c1c1c" stroke="#1c1c1c" stroke-width="0.35">10<tspan dx="0.3" dy="-10.5" font-size="14.0">4</tspan></text>
<text x="1320.4" y="652.9" font-size="15.2" fill="#1c1c1c" stroke="#1c1c1c" stroke-width="0.35">10<tspan dx="0.3" dy="-10.5" font-size="14.0">5</tspan></text>
<text x="1365.5" y="671.7" font-size="45.76" textLength="51.0" lengthAdjust="spacingAndGlyphs">29</text>
<text x="1602.1" y="671.7" font-size="45.76" textLength="49.0" lengthAdjust="spacingAndGlyphs">10</text>
<text x="1366.8" y="902.8" font-size="45.76" textLength="48.3" lengthAdjust="spacingAndGlyphs">44</text>
<text x="1603.5" y="902.8" font-size="45.76" textLength="47.7" lengthAdjust="spacingAndGlyphs">18</text>
<text transform="translate(911.7,834.4) rotate(-90)" x="-2.8" y="0" font-size="42.64" font-weight="bold" textLength="125.8" lengthAdjust="spacingAndGlyphs">NP-PE</text>
<text x="990.3" y="1011.8" font-size="42.64" font-weight="bold" textLength="228.6" lengthAdjust="spacingAndGlyphs">BV421-IgG1</text>
<rect x="1263.0" y="1003.4" width="398.0" height="5.5" fill="#000"/>
<path d="M1659.0 990.9L1690.6 1006.1L1659.0 1021.4z"/>
<text x="1817.3" y="42.3" font-size="55.12" font-weight="bold" textLength="35.1" lengthAdjust="spacingAndGlyphs">C</text>
<rect x="1929.0" y="158.2" width="7.2" height="321.0" fill="#000"/>
<rect x="1916.5" y="472.0" width="205.1" height="7.2" fill="#000"/>
<rect x="1916.5" y="158.2" width="13.5" height="7.2" fill="#000"/>
<rect x="1916.5" y="262.9" width="13.5" height="7.2" fill="#000"/>
<rect x="1916.5" y="366.7" width="13.5" height="7.2" fill="#000"/>
<text x="1879.2" y="171.0" font-size="28.6" font-weight="bold" textLength="30.6" lengthAdjust="spacingAndGlyphs">15</text>
<text x="1879.6" y="275.7" font-size="28.6" font-weight="bold" textLength="30.6" lengthAdjust="spacingAndGlyphs">10</text>
<text x="1894.5" y="379.5" font-size="28.6" font-weight="bold" textLength="15.3" lengthAdjust="spacingAndGlyphs">5</text>
<text x="1894.8" y="484.8" font-size="28.6" font-weight="bold" textLength="15.3" lengthAdjust="spacingAndGlyphs">0</text>
<text transform="translate(1850.5,372.7) rotate(-90)" x="-0.9" y="0" font-size="43.68" font-weight="bold" textLength="100.2" lengthAdjust="spacingAndGlyphs">% GC</text>
<text x="2004.9" y="164.3" font-size="38.48" textLength="60.5" lengthAdjust="spacingAndGlyphs">n.s.</text>
<circle cx="1959.4" cy="265.6" r="9.5" fill="#4F81BD" stroke="#000" stroke-width="2.6"/>
<circle cx="1989.6" cy="282.9" r="9.5" fill="#4F81BD" stroke="#000" stroke-width="2.6"/>
<circle cx="1968.8" cy="292.9" r="9.5" fill="#4F81BD" stroke="#000" stroke-width="2.6"/>
<circle cx="1979.6" cy="293.8" r="9.5" fill="#4F81BD" stroke="#000" stroke-width="2.6"/>
<circle cx="1974.4" cy="330.9" r="9.5" fill="#4F81BD" stroke="#000" stroke-width="2.6"/>
<circle cx="1958.7" cy="349.7" r="9.5" fill="#4F81BD" stroke="#000" stroke-width="2.6"/>
<circle cx="1989.6" cy="351.4" r="9.5" fill="#4F81BD" stroke="#000" stroke-width="2.6"/>
<circle cx="1984.8" cy="429.1" r="9.5" fill="#4F81BD" stroke="#000" stroke-width="2.6"/>
<circle cx="1964.0" cy="444.4" r="9.5" fill="#4F81BD" stroke="#000" stroke-width="2.6"/>
<rect x="1971.9" y="325.7" width="5.0" height="34.3" fill="#000"/>
<rect x="1962.0" y="323.2" width="25.0" height="5.0" fill="#000"/>
<rect x="1962.0" y="357.5" width="25.0" height="5.0" fill="#000"/>
<rect x="1953.5" y="337.2" width="42.8" height="8.0" fill="#000"/>
<circle cx="1979.6" cy="369.6" r="9.5" fill="#4F81BD" stroke="#000" stroke-width="2.6"/>
<circle cx="2078.8" cy="223.8" r="9.5" fill="#F04B39" stroke="#000" stroke-width="2.6"/>
<circle cx="2073.0" cy="274.6" r="9.5" fill="#F04B39" stroke="#000" stroke-width="2.6"/>
<circle cx="2078.4" cy="297.5" r="9.5" fill="#F04B39" stroke="#000" stroke-width="2.6"/>
<circle cx="2085.5" cy="289.2" r="9.5" fill="#F04B39" stroke="#000" stroke-width="2.6"/>
<circle cx="2078.8" cy="390.5" r="9.5" fill="#F04B39" stroke="#000" stroke-width="2.6"/>
<circle cx="2071.5" cy="425.3" r="9.5" fill="#F04B39" stroke="#000" stroke-width="2.6"/>
<circle cx="2086.1" cy="427.0" r="9.5" fill="#F04B39" stroke="#000" stroke-width="2.6"/>
<circle cx="2080.9" cy="440.6" r="9.5" fill="#F04B39" stroke="#000" stroke-width="2.6"/>
<rect x="2076.1" y="337.8" width="5.5" height="51.6" fill="#000"/>
<rect x="2065.0" y="335.1" width="27.4" height="5.5" fill="#000"/>
<rect x="2065.0" y="386.6" width="27.4" height="5.5" fill="#000"/>
<rect x="2056.9" y="359.8" width="43.2" height="8.5" fill="#000"/>
<text x="2142.6" y="42.3" font-size="55.12" font-weight="bold" textLength="37.5" lengthAdjust="spacingAndGlyphs">D</text>
<rect x="2275.8" y="158.2" width="7.2" height="321.5" fill="#000"/>
<rect x="2264.3" y="472.5" width="204.7" height="7.2" fill="#000"/>
<rect x="2264.3" y="158.2" width="12.5" height="7.2" fill="#000"/>
<rect x="2264.3" y="262.9" width="12.5" height="7.2" fill="#000"/>
<rect x="2264.3" y="367.9" width="12.5" height="7.2" fill="#000"/>
<text x="2229.2" y="171.0" font-size="28.6" font-weight="bold" textLength="30.6" lengthAdjust="spacingAndGlyphs">60</text>
<text x="2229.2" y="275.7" font-size="28.6" font-weight="bold" textLength="30.6" lengthAdjust="spacingAndGlyphs">40</text>
<text x="2229.2" y="380.7" font-size="28.6" font-weight="bold" textLength="30.6" lengthAdjust="spacingAndGlyphs">20</text>
<text x="2244.4" y="485.3" font-size="28.6" font-weight="bold" textLength="15.3" lengthAdjust="spacingAndGlyphs">0</text>
<text transform="translate(2198.0,378.8) rotate(-90)" x="-1.0" y="0" font-size="43.68" font-weight="bold" textLength="99.8" lengthAdjust="spacingAndGlyphs">% NP</text>
<text transform="translate(2183.5,278.7) rotate(-90)" x="-1.3" y="0" font-size="31.2" font-weight="bold" textLength="18.3" lengthAdjust="spacingAndGlyphs">+</text>
<text x="2342.8" y="175.4" font-size="46.18" font-weight="bold" textLength="62.6" lengthAdjust="spacingAndGlyphs">***</text>
<circle cx="2321.3" cy="183.7" r="9.5" fill="#4F81BD" stroke="#000" stroke-width="2.6"/>
<circle cx="2329.0" cy="292.9" r="9.5" fill="#4F81BD" stroke="#000" stroke-width="2.6"/>
<circle cx="2315.4" cy="297.1" r="9.5" fill="#4F81BD" stroke="#000" stroke-width="2.6"/>
<circle cx="2323.8" cy="299.6" r="9.5" fill="#4F81BD" stroke="#000" stroke-width="2.6"/>
<circle cx="2317.5" cy="308.0" r="9.5" fill="#4F81BD" stroke="#000" stroke-width="2.6"/>
<circle cx="2320.7" cy="316.3" r="9.5" fill="#4F81BD" stroke="#000" stroke-width="2.6"/>
<circle cx="2327.0" cy="319.5" r="9.5" fill="#4F81BD" stroke="#000" stroke-width="2.6"/>
<circle cx="2321.7" cy="325.7" r="9.5" fill="#4F81BD" stroke="#000" stroke-width="2.6"/>
<circle cx="2323.4" cy="338.3" r="9.5" fill="#4F81BD" stroke="#000" stroke-width="2.6"/>
<circle cx="2321.3" cy="347.7" r="9.5" fill="#4F81BD" stroke="#000" stroke-width="2.6"/>
<rect x="2319.0" y="297.5" width="5.0" height="18.8" fill="#000"/>
<rect x="2309.0" y="295.0" width="26.0" height="5.0" fill="#000"/>
<rect x="2309.0" y="313.8" width="26.0" height="5.0" fill="#000"/>
<rect x="2300.4" y="302.3" width="42.2" height="8.7" fill="#000"/>
<circle cx="2415.7" cy="182.2" r="9.5" fill="#F04B39" stroke="#000" stroke-width="2.6"/>
<circle cx="2436.6" cy="198.3" r="9.5" fill="#F04B39" stroke="#000" stroke-width="2.6"/>
<circle cx="2420.3" cy="219.2" r="9.5" fill="#F04B39" stroke="#000" stroke-width="2.6"/>
<circle cx="2431.4" cy="234.9" r="9.5" fill="#F04B39" stroke="#000" stroke-width="2.6"/>
<circle cx="2411.5" cy="252.6" r="9.5" fill="#F04B39" stroke="#000" stroke-width="2.6"/>
<circle cx="2420.9" cy="271.4" r="9.5" fill="#F04B39" stroke="#000" stroke-width="2.6"/>
<circle cx="2431.4" cy="271.4" r="9.5" fill="#F04B39" stroke="#000" stroke-width="2.6"/>
<circle cx="2441.8" cy="267.2" r="9.5" fill="#F04B39" stroke="#000" stroke-width="2.6"/>
<circle cx="2426.1" cy="308.0" r="9.5" fill="#F04B39" stroke="#000" stroke-width="2.6"/>
<rect x="2423.8" y="232.8" width="5.0" height="24.0" fill="#000"/>
<rect x="2413.6" y="230.3" width="25.1" height="5.0" fill="#000"/>
<rect x="2413.6" y="254.3" width="25.1" height="5.0" fill="#000"/>
<rect x="2405.2" y="240.5" width="42.4" height="9.0" fill="#000"/>
<text x="1817.6" y="529.5" font-size="55.12" font-weight="bold" textLength="34.1" lengthAdjust="spacingAndGlyphs">E</text>
<rect x="1925.8" y="576.2" width="7.0" height="320.8" fill="#000"/>
<rect x="1914.2" y="890.0" width="204.7" height="7.0" fill="#000"/>
<rect x="1914.2" y="576.3" width="12.6" height="7.0" fill="#000"/>
<rect x="1914.2" y="654.4" width="12.6" height="7.0" fill="#000"/>
<rect x="1914.2" y="732.7" width="12.6" height="7.0" fill="#000"/>
<rect x="1914.2" y="811.0" width="12.6" height="7.0" fill="#000"/>
<text x="1877.6" y="589.0" font-size="28.6" font-weight="bold" textLength="30.6" lengthAdjust="spacingAndGlyphs">80</text>
<text x="1877.6" y="667.1" font-size="28.6" font-weight="bold" textLength="30.6" lengthAdjust="spacingAndGlyphs">60</text>
<text x="1877.6" y="745.4" font-size="28.6" font-weight="bold" textLength="30.6" lengthAdjust="spacingAndGlyphs">40</text>
<text x="1877.6" y="823.7" font-size="28.6" font-weight="bold" textLength="30.6" lengthAdjust="spacingAndGlyphs">20</text>
<text x="1892.8" y="902.5" font-size="28.6" font-weight="bold" textLength="15.3" lengthAdjust="spacingAndGlyphs">0</text>
<text transform="translate(1849.1,815.6) rotate(-90)" x="-0.9" y="0" font-size="43.68" font-weight="bold" textLength="128.8" lengthAdjust="spacingAndGlyphs">% IgG1</text>
<text transform="translate(1834.5,680.9) rotate(-90)" x="-1.3" y="0" font-size="31.2" font-weight="bold" textLength="18.5" lengthAdjust="spacingAndGlyphs">+</text>
<text x="1998.7" y="609.2" font-size="46.18" font-weight="bold" textLength="61.4" lengthAdjust="spacingAndGlyphs">***</text>
<circle cx="1971.7" cy="598.4" r="9.5" fill="#4F81BD" stroke="#000" stroke-width="2.6"/>
<circle cx="1956.5" cy="618.5" r="9.5" fill="#4F81BD" stroke="#000" stroke-width="2.6"/>
<circle cx="1987.4" cy="626.2" r="9.5" fill="#4F81BD" stroke="#000" stroke-width="2.6"/>
<circle cx="1967.3" cy="631.1" r="9.5" fill="#4F81BD" stroke="#000" stroke-width="2.6"/>
<circle cx="1964.9" cy="646.8" r="9.5" fill="#4F81BD" stroke="#000" stroke-width="2.6"/>
<circle cx="1977.0" cy="654.0" r="9.5" fill="#4F81BD" stroke="#000" stroke-width="2.6"/>
<circle cx="1972.2" cy="663.7" r="9.5" fill="#4F81BD" stroke="#000" stroke-width="2.6"/>
<circle cx="1961.3" cy="716.9" r="9.5" fill="#4F81BD" stroke="#000" stroke-width="2.6"/>
<circle cx="1982.6" cy="720.5" r="9.5" fill="#4F81BD" stroke="#000" stroke-width="2.6"/>
<circle cx="1971.7" cy="779.7" r="9.5" fill="#4F81BD" stroke="#000" stroke-width="2.6"/>
<rect x="1969.7" y="646.8" width="5.0" height="31.9" fill="#000"/>
<rect x="1958.9" y="644.3" width="26.6" height="5.0" fill="#000"/>
<rect x="1958.9" y="676.2" width="26.6" height="5.0" fill="#000"/>
<rect x="1950.4" y="657.3" width="42.3" height="9.4" fill="#000"/>
<circle cx="2065.2" cy="689.1" r="9.5" fill="#F04B39" stroke="#000" stroke-width="2.6"/>
<circle cx="2070.1" cy="708.4" r="9.5" fill="#F04B39" stroke="#000" stroke-width="2.6"/>
<circle cx="2080.9" cy="709.6" r="9.5" fill="#F04B39" stroke="#000" stroke-width="2.6"/>
<circle cx="2087.0" cy="704.8" r="9.5" fill="#F04B39" stroke="#000" stroke-width="2.6"/>
<circle cx="2076.1" cy="736.2" r="9.5" fill="#F04B39" stroke="#000" stroke-width="2.6"/>
<circle cx="2068.9" cy="771.3" r="9.5" fill="#F04B39" stroke="#000" stroke-width="2.6"/>
<circle cx="2082.1" cy="772.5" r="9.5" fill="#F04B39" stroke="#000" stroke-width="2.6"/>
<circle cx="2074.9" cy="788.2" r="9.5" fill="#F04B39" stroke="#000" stroke-width="2.6"/>
<circle cx="2086.5" cy="796.2" r="9.5" fill="#F04B39" stroke="#000" stroke-width="2.6"/>
<circle cx="2065.2" cy="820.3" r="9.5" fill="#F04B39" stroke="#000" stroke-width="2.6"/>
<rect x="2073.6" y="735.0" width="5.0" height="29.0" fill="#000"/>
<rect x="2062.8" y="732.5" width="26.6" height="5.0" fill="#000"/>
<rect x="2062.8" y="761.5" width="26.6" height="5.0" fill="#000"/>
<rect x="2055.1" y="745.4" width="41.6" height="9.7" fill="#000"/>
<text x="2145.9" y="529.5" font-size="55.12" font-weight="bold" textLength="30.6" lengthAdjust="spacingAndGlyphs">F</text>
<rect x="2281.8" y="575.5" width="7.0" height="320.3" fill="#000"/>
<rect x="2270.2" y="888.8" width="204.3" height="7.0" fill="#000"/>
<rect x="2270.2" y="575.6" width="12.6" height="7.0" fill="#000"/>
<rect x="2270.2" y="637.7" width="12.6" height="7.0" fill="#000"/>
<rect x="2270.2" y="701.1" width="12.6" height="7.0" fill="#000"/>
<rect x="2270.2" y="764.7" width="12.6" height="7.0" fill="#000"/>
<rect x="2270.2" y="827.0" width="12.6" height="7.0" fill="#000"/>
<text x="2218.6" y="588.3" font-size="28.6" font-weight="bold" textLength="45.9" lengthAdjust="spacingAndGlyphs">100</text>
<text x="2234.0" y="650.4" font-size="28.6" font-weight="bold" textLength="30.6" lengthAdjust="spacingAndGlyphs">80</text>
<text x="2234.0" y="713.8" font-size="28.6" font-weight="bold" textLength="30.6" lengthAdjust="spacingAndGlyphs">60</text>
<text x="2234.0" y="777.4" font-size="28.6" font-weight="bold" textLength="30.6" lengthAdjust="spacingAndGlyphs">40</text>
<text x="2234.0" y="839.7" font-size="28.6" font-weight="bold" textLength="30.6" lengthAdjust="spacingAndGlyphs">20</text>
<text x="2249.2" y="901.3" font-size="28.6" font-weight="bold" textLength="15.3" lengthAdjust="spacingAndGlyphs">0</text>
<text transform="translate(2188.0,880.5) rotate(-90)" x="-0.9" y="0" font-size="43.68" font-weight="bold" textLength="128.6" lengthAdjust="spacingAndGlyphs">% IgG1</text>
<text transform="translate(2173.6,751.4) rotate(-90)" x="-1.4" y="0" font-size="31.2" font-weight="bold" textLength="18.6" lengthAdjust="spacingAndGlyphs">+</text>
<text transform="translate(2188.0,712.7) rotate(-90)" x="-1.5" y="0" font-size="43.68" font-weight="bold" textLength="96.4" lengthAdjust="spacingAndGlyphs">of NP</text>
<text transform="translate(2173.6,612.5) rotate(-90)" x="-1.3" y="0" font-size="31.2" font-weight="bold" textLength="18.5" lengthAdjust="spacingAndGlyphs">+</text>
<text x="2349.9" y="609.2" font-size="46.18" font-weight="bold" textLength="60.7" lengthAdjust="spacingAndGlyphs">***</text>
<circle cx="2327.7" cy="627.4" r="9.5" fill="#4F81BD" stroke="#000" stroke-width="2.6"/>
<circle cx="2311.8" cy="635.9" r="9.5" fill="#4F81BD" stroke="#000" stroke-width="2.6"/>
<circle cx="2343.2" cy="635.2" r="9.5" fill="#4F81BD" stroke="#000" stroke-width="2.6"/>
<circle cx="2317.3" cy="657.7" r="9.5" fill="#4F81BD" stroke="#000" stroke-width="2.6"/>
<circle cx="2338.4" cy="655.2" r="9.5" fill="#4F81BD" stroke="#000" stroke-width="2.6"/>
<circle cx="2330.6" cy="663.7" r="9.5" fill="#4F81BD" stroke="#000" stroke-width="2.6"/>
<circle cx="2316.1" cy="683.0" r="9.5" fill="#4F81BD" stroke="#000" stroke-width="2.6"/>
<circle cx="2339.1" cy="697.5" r="9.5" fill="#4F81BD" stroke="#000" stroke-width="2.6"/>
<circle cx="2338.4" cy="748.8" r="9.5" fill="#4F81BD" stroke="#000" stroke-width="2.6"/>
<circle cx="2317.3" cy="776.8" r="9.5" fill="#4F81BD" stroke="#000" stroke-width="2.6"/>
<rect x="2325.2" y="663.7" width="5.0" height="27.1" fill="#000"/>
<rect x="2314.5" y="661.2" width="26.5" height="5.0" fill="#000"/>
<rect x="2314.5" y="688.3" width="26.5" height="5.0" fill="#000"/>
<rect x="2306.5" y="672.2" width="42.3" height="9.6" fill="#000"/>
<circle cx="2416.9" cy="698.8" r="9.5" fill="#F04B39" stroke="#000" stroke-width="2.6"/>
<circle cx="2425.4" cy="712.5" r="9.5" fill="#F04B39" stroke="#000" stroke-width="2.6"/>
<circle cx="2447.1" cy="708.4" r="9.5" fill="#F04B39" stroke="#000" stroke-width="2.6"/>
<circle cx="2437.5" cy="723.7" r="9.5" fill="#F04B39" stroke="#000" stroke-width="2.6"/>
<circle cx="2431.0" cy="765.2" r="9.5" fill="#F04B39" stroke="#000" stroke-width="2.6"/>
<circle cx="2421.3" cy="796.7" r="9.5" fill="#F04B39" stroke="#000" stroke-width="2.6"/>
<circle cx="2442.3" cy="803.9" r="9.5" fill="#F04B39" stroke="#000" stroke-width="2.6"/>
<circle cx="2426.1" cy="811.6" r="9.5" fill="#F04B39" stroke="#000" stroke-width="2.6"/>
<circle cx="2437.0" cy="823.7" r="9.5" fill="#F04B39" stroke="#000" stroke-width="2.6"/>
<circle cx="2432.2" cy="837.3" r="9.5" fill="#F04B39" stroke="#000" stroke-width="2.6"/>
<rect x="2429.7" y="752.7" width="5.0" height="32.3" fill="#000"/>
<rect x="2418.9" y="750.2" width="26.5" height="5.0" fill="#000"/>
<rect x="2418.9" y="782.5" width="26.5" height="5.0" fill="#000"/>
<rect x="2410.9" y="764.1" width="41.8" height="9.7" fill="#000"/>
<rect x="1907.2" y="943.6" width="572.9" height="81" fill="none" stroke="#000" stroke-width="5.5"/>
<circle cx="1950.0" cy="985.3" r="12.3" fill="#4F81BD" stroke="#000" stroke-width="3"/>
<circle cx="2216.8" cy="983.8" r="12.3" fill="#F04B39" stroke="#000" stroke-width="3"/>
<text x="1974.6" y="999.8" font-size="43.16" font-style="italic" textLength="110.7" lengthAdjust="spacingAndGlyphs">Tet2/3</text>
<text x="2096.7" y="999.8" font-size="43.16" textLength="62.7" lengthAdjust="spacingAndGlyphs">WT</text>
<text x="2244.4" y="999.8" font-size="43.16" font-style="italic" textLength="110.8" lengthAdjust="spacingAndGlyphs">Tet2/3</text>
<text x="2364.2" y="999.8" font-size="43.16" textLength="93.1" lengthAdjust="spacingAndGlyphs">DKO</text>
<text x="805.9" y="1064.8" font-size="55.12" font-weight="bold" textLength="40.1" lengthAdjust="spacingAndGlyphs">H</text>
<text x="1194.2" y="1108.3" font-size="50.96" textLength="156.4" lengthAdjust="spacingAndGlyphs">In vitro</text>
<rect x="937.2" y="1130.1" width="691.4" height="6.6" fill="#000"/>
<text x="974.1" y="1205.5" font-size="50.96" font-style="italic" textLength="138.6" lengthAdjust="spacingAndGlyphs">Tet2/3</text>
<text x="1135.8" y="1205.5" font-size="50.96" textLength="72.7" lengthAdjust="spacingAndGlyphs">WT</text>
<text x="1343.1" y="1205.5" font-size="50.96" font-style="italic" textLength="139.4" lengthAdjust="spacingAndGlyphs">Tet2/3</text>
<text x="1497.9" y="1205.5" font-size="50.96" textLength="113.0" lengthAdjust="spacingAndGlyphs">DKO</text>
<text transform="translate(865.4,1515.2) rotate(-90)" x="-2.7" y="0" font-size="43.68" font-weight="bold" textLength="242.7" lengthAdjust="spacingAndGlyphs">PE-Cy7-IgG1</text>
<text x="935.6" y="1662.2" font-size="42.64" font-weight="bold" textLength="304.7" lengthAdjust="spacingAndGlyphs">Cell-trace violet</text>
<rect x="1286.4" y="1639.0" width="323.3" height="5.5" fill="#000"/>
<path d="M1607.7 1626.5L1637.0 1641.8L1607.7 1657.0z"/>
<g filter="url(#fh1)" style="isolation:isolate"><rect x="929.3" y="1232.1" width="323.8" height="322.6" fill="#000"/><g style="mix-blend-mode:lighten">
<ellipse cx="1058.0" cy="1322.0" rx="52.0" ry="70.0" fill="url(#g43)" style="mix-blend-mode:lighten"/>
<ellipse cx="1057.0" cy="1325.0" rx="36.0" ry="56.0" fill="url(#g44)" style="mix-blend-mode:lighten"/>
<ellipse cx="1057.0" cy="1323.0" rx="22.0" ry="38.0" fill="url(#g45)" style="mix-blend-mode:lighten"/>
<ellipse cx="1057.5" cy="1322.0" rx="13.0" ry="26.0" fill="url(#g46)" style="mix-blend-mode:lighten"/>
<ellipse cx="1068.0" cy="1400.0" rx="58.0" ry="150.0" fill="url(#g47)" style="mix-blend-mode:lighten"/>
<ellipse cx="1067.0" cy="1402.0" rx="50.0" ry="140.0" fill="url(#g48)" style="mix-blend-mode:lighten"/>
<ellipse cx="1072.0" cy="1450.0" rx="50.0" ry="80.0" fill="url(#g49)" style="mix-blend-mode:lighten"/>
<ellipse cx="1072.0" cy="1442.0" rx="35.0" ry="57.0" fill="url(#g50)" style="mix-blend-mode:lighten"/>
<ellipse cx="1075.0" cy="1438.0" rx="21.0" ry="40.0" fill="url(#g51)" style="mix-blend-mode:lighten"/>
<ellipse cx="1067.8" cy="1427.0" rx="4.5" ry="27.0" fill="url(#g52)" style="mix-blend-mode:lighten"/>
<ellipse cx="1086.5" cy="1427.0" rx="4.5" ry="27.0" fill="url(#g53)" style="mix-blend-mode:lighten"/>
<ellipse cx="1138.0" cy="1445.0" rx="50.0" ry="85.0" fill="url(#g54)" style="mix-blend-mode:lighten"/>
<ellipse cx="1154.0" cy="1452.0" rx="12.0" ry="48.0" fill="url(#g55)" style="mix-blend-mode:lighten"/>
</g></g>
<rect x="1005.2" y="1251.3" width="176.4" height="121.3" fill="none" stroke="#000" stroke-width="1.6"/>
<rect x="927.9" y="1230.7" width="326.6" height="325.4" fill="none" stroke="#000" stroke-width="6.8" stroke-linejoin="round"/>
<path d="M935.2 1559.0v7.4M993.8 1559.0v7.4M1072.2 1559.0v7.4M1149.1 1559.0v7.4M1223.4 1559.0v7.4" stroke="#000" stroke-width="1.6" fill="none"/>
<path d="M1017.4 1559.0v3.5M1031.2 1559.0v3.5M1041.0 1559.0v3.5M1048.6 1559.0v3.5M1054.8 1559.0v3.5M1060.0 1559.0v3.5M1064.6 1559.0v3.5M1068.6 1559.0v3.5M1095.3 1559.0v3.5M1108.9 1559.0v3.5M1118.5 1559.0v3.5M1126.0 1559.0v3.5M1132.0 1559.0v3.5M1137.2 1559.0v3.5M1141.6 1559.0v3.5M1145.6 1559.0v3.5M1171.5 1559.0v3.5M1184.6 1559.0v3.5M1193.8 1559.0v3.5M1201.0 1559.0v3.5M1206.9 1559.0v3.5M1211.9 1559.0v3.5M1216.2 1559.0v3.5M1220.0 1559.0v3.5M1245.8 1559.0v3.5M967.4 1559.0v3.5M961.6 1559.0v3.5M970.4 1559.0v3.5M958.6 1559.0v3.5M973.3 1559.0v3.5M955.7 1559.0v3.5M976.2 1559.0v3.5M952.8 1559.0v3.5M979.1 1559.0v3.5M949.9 1559.0v3.5M982.1 1559.0v3.5M946.9 1559.0v3.5M985.0 1559.0v3.5M944.0 1559.0v3.5M987.9 1559.0v3.5M941.1 1559.0v3.5M990.8 1559.0v3.5M938.2 1559.0v3.5" stroke="#000" stroke-width="1.0" fill="none"/>
<path d="M964.5 1559.0v7.4" stroke="#000" stroke-width="5" fill="none"/>
<path d="M925.0 1543.9h-7.4M925.0 1491.9h-7.4M925.0 1414.8h-7.4M925.0 1336.7h-7.4M925.0 1261.9h-7.4" stroke="#000" stroke-width="1.6" fill="none"/>
<path d="M925.0 1468.7h-3.5M925.0 1455.1h-3.5M925.0 1445.5h-3.5M925.0 1438.0h-3.5M925.0 1431.9h-3.5M925.0 1426.7h-3.5M925.0 1422.3h-3.5M925.0 1418.3h-3.5M925.0 1391.3h-3.5M925.0 1377.5h-3.5M925.0 1367.8h-3.5M925.0 1360.2h-3.5M925.0 1354.0h-3.5M925.0 1348.8h-3.5M925.0 1344.3h-3.5M925.0 1340.3h-3.5M925.0 1314.2h-3.5M925.0 1301.0h-3.5M925.0 1291.7h-3.5M925.0 1284.4h-3.5M925.0 1278.5h-3.5M925.0 1273.5h-3.5M925.0 1269.1h-3.5M925.0 1265.3h-3.5M925.0 1239.4h-3.5M925.0 1514.7h-3.5M925.0 1519.9h-3.5M925.0 1512.1h-3.5M925.0 1522.5h-3.5M925.0 1509.6h-3.5M925.0 1525.2h-3.5M925.0 1507.1h-3.5M925.0 1527.9h-3.5M925.0 1504.6h-3.5M925.0 1530.6h-3.5M925.0 1502.0h-3.5M925.0 1533.2h-3.5M925.0 1499.5h-3.5M925.0 1535.9h-3.5M925.0 1497.0h-3.5M925.0 1538.6h-3.5M925.0 1494.4h-3.5M925.0 1541.2h-3.5" stroke="#000" stroke-width="1.0" fill="none"/>
<path d="M925.0 1517.2h-7.4" stroke="#000" stroke-width="5" fill="none"/>
<text x="967.1" y="1589.1" font-size="15.2" fill="#1c1c1c" stroke="#1c1c1c" stroke-width="0.35">0</text>
<text x="1070.4" y="1589.8" font-size="15.2" fill="#1c1c1c" stroke="#1c1c1c" stroke-width="0.35">10<tspan dx="0.3" dy="-10.5" font-size="14.0">3</tspan></text>
<text x="1147.3" y="1589.8" font-size="15.2" fill="#1c1c1c" stroke="#1c1c1c" stroke-width="0.35">10<tspan dx="0.3" dy="-10.5" font-size="14.0">4</tspan></text>
<text x="1221.6" y="1589.8" font-size="15.2" fill="#1c1c1c" stroke="#1c1c1c" stroke-width="0.35">10<tspan dx="0.3" dy="-10.5" font-size="14.0">5</tspan></text>
<text x="894.5" y="1522.5" font-size="15.2" fill="#1c1c1c" stroke="#1c1c1c" stroke-width="0.35">0</text>
<text x="886.1" y="1424.4" font-size="15.2" fill="#1c1c1c" stroke="#1c1c1c" stroke-width="0.35">10<tspan dx="0.3" dy="-10.5" font-size="14.0">3</tspan></text>
<text x="886.1" y="1345.3" font-size="15.2" fill="#1c1c1c" stroke="#1c1c1c" stroke-width="0.35">10<tspan dx="0.3" dy="-10.5" font-size="14.0">4</tspan></text>
<text x="886.1" y="1271.2" font-size="15.2" fill="#1c1c1c" stroke="#1c1c1c" stroke-width="0.35">10<tspan dx="0.3" dy="-10.5" font-size="14.0">5</tspan></text>
<text x="1196.9" y="1290.9" font-size="45.76" textLength="47.8" lengthAdjust="spacingAndGlyphs">21</text>
<g filter="url(#fh2)" style="isolation:isolate"><rect x="1316.0" y="1236.8" width="320.5" height="318.9" fill="#000"/><g style="mix-blend-mode:lighten">
<ellipse cx="1439.0" cy="1322.0" rx="50.0" ry="68.0" fill="url(#g56)" style="mix-blend-mode:lighten"/>
<ellipse cx="1438.0" cy="1325.0" rx="34.0" ry="52.0" fill="url(#g57)" style="mix-blend-mode:lighten"/>
<ellipse cx="1437.0" cy="1322.0" rx="16.0" ry="28.0" fill="url(#g58)" style="mix-blend-mode:lighten"/>
<ellipse cx="1450.0" cy="1402.0" rx="60.0" ry="150.0" fill="url(#g59)" style="mix-blend-mode:lighten"/>
<ellipse cx="1449.0" cy="1404.0" rx="50.0" ry="140.0" fill="url(#g60)" style="mix-blend-mode:lighten"/>
<ellipse cx="1453.4" cy="1452.0" rx="52.0" ry="80.0" fill="url(#g61)" style="mix-blend-mode:lighten"/>
<ellipse cx="1453.4" cy="1450.0" rx="38.0" ry="53.0" fill="url(#g62)" style="mix-blend-mode:lighten"/>
<ellipse cx="1455.0" cy="1448.0" rx="23.0" ry="40.0" fill="url(#g63)" style="mix-blend-mode:lighten"/>
<ellipse cx="1455.6" cy="1447.0" rx="13.0" ry="28.0" fill="url(#g64)" style="mix-blend-mode:lighten"/>
<ellipse cx="1512.0" cy="1455.0" rx="48.0" ry="85.0" fill="url(#g65)" style="mix-blend-mode:lighten"/>
<ellipse cx="1537.0" cy="1487.0" rx="8.0" ry="44.0" fill="url(#g66)" style="mix-blend-mode:lighten"/>
</g></g>
<rect x="1389.2" y="1253.3" width="173.7" height="120.4" fill="none" stroke="#000" stroke-width="1.3"/>
<rect x="1314.6" y="1235.4" width="323.3" height="321.7" fill="none" stroke="#000" stroke-width="6.8" stroke-linejoin="round"/>
<path d="M1319.7 1560.0v7.4M1376.1 1560.0v7.4M1454.5 1560.0v7.4M1531.4 1560.0v7.4M1605.7 1560.0v7.4" stroke="#000" stroke-width="1.6" fill="none"/>
<path d="M1399.7 1560.0v3.5M1413.5 1560.0v3.5M1423.3 1560.0v3.5M1430.9 1560.0v3.5M1437.1 1560.0v3.5M1442.3 1560.0v3.5M1446.9 1560.0v3.5M1450.9 1560.0v3.5M1477.6 1560.0v3.5M1491.2 1560.0v3.5M1500.8 1560.0v3.5M1508.3 1560.0v3.5M1514.3 1560.0v3.5M1519.5 1560.0v3.5M1523.9 1560.0v3.5M1527.9 1560.0v3.5M1553.8 1560.0v3.5M1566.9 1560.0v3.5M1576.1 1560.0v3.5M1583.3 1560.0v3.5M1589.2 1560.0v3.5M1594.2 1560.0v3.5M1598.5 1560.0v3.5M1602.3 1560.0v3.5M1628.1 1560.0v3.5M1350.7 1560.0v3.5M1345.1 1560.0v3.5M1353.5 1560.0v3.5M1342.3 1560.0v3.5M1356.3 1560.0v3.5M1339.5 1560.0v3.5M1359.2 1560.0v3.5M1336.6 1560.0v3.5M1362.0 1560.0v3.5M1333.8 1560.0v3.5M1364.8 1560.0v3.5M1331.0 1560.0v3.5M1367.6 1560.0v3.5M1328.2 1560.0v3.5M1370.4 1560.0v3.5M1325.4 1560.0v3.5M1373.2 1560.0v3.5M1322.6 1560.0v3.5" stroke="#000" stroke-width="1.0" fill="none"/>
<path d="M1347.9 1560.0v7.4" stroke="#000" stroke-width="5" fill="none"/>
<path d="M1311.7 1544.4h-7.4M1311.7 1492.4h-7.4M1311.7 1415.9h-7.4M1311.7 1337.5h-7.4M1311.7 1263.4h-7.4" stroke="#000" stroke-width="1.6" fill="none"/>
<path d="M1311.7 1469.4h-3.5M1311.7 1455.9h-3.5M1311.7 1446.3h-3.5M1311.7 1438.9h-3.5M1311.7 1432.9h-3.5M1311.7 1427.7h-3.5M1311.7 1423.3h-3.5M1311.7 1419.4h-3.5M1311.7 1392.3h-3.5M1311.7 1378.5h-3.5M1311.7 1368.7h-3.5M1311.7 1361.1h-3.5M1311.7 1354.9h-3.5M1311.7 1349.6h-3.5M1311.7 1345.1h-3.5M1311.7 1341.1h-3.5M1311.7 1315.2h-3.5M1311.7 1302.1h-3.5M1311.7 1292.9h-3.5M1311.7 1285.7h-3.5M1311.7 1279.8h-3.5M1311.7 1274.9h-3.5M1311.7 1270.6h-3.5M1311.7 1266.8h-3.5M1311.7 1241.1h-3.5M1311.7 1515.2h-3.5M1311.7 1520.4h-3.5M1311.7 1512.6h-3.5M1311.7 1523.0h-3.5M1311.7 1510.1h-3.5M1311.7 1525.7h-3.5M1311.7 1507.6h-3.5M1311.7 1528.4h-3.5M1311.7 1505.1h-3.5M1311.7 1531.1h-3.5M1311.7 1502.5h-3.5M1311.7 1533.7h-3.5M1311.7 1500.0h-3.5M1311.7 1536.4h-3.5M1311.7 1497.5h-3.5M1311.7 1539.1h-3.5M1311.7 1494.9h-3.5M1311.7 1541.7h-3.5" stroke="#000" stroke-width="1.0" fill="none"/>
<path d="M1311.7 1517.7h-7.4" stroke="#000" stroke-width="5" fill="none"/>
<text x="1350.5" y="1590.1" font-size="15.2" fill="#1c1c1c" stroke="#1c1c1c" stroke-width="0.35">0</text>
<text x="1452.7" y="1590.8" font-size="15.2" fill="#1c1c1c" stroke="#1c1c1c" stroke-width="0.35">10<tspan dx="0.3" dy="-10.5" font-size="14.0">3</tspan></text>
<text x="1529.6" y="1590.8" font-size="15.2" fill="#1c1c1c" stroke="#1c1c1c" stroke-width="0.35">10<tspan dx="0.3" dy="-10.5" font-size="14.0">4</tspan></text>
<text x="1603.9" y="1590.8" font-size="15.2" fill="#1c1c1c" stroke="#1c1c1c" stroke-width="0.35">10<tspan dx="0.3" dy="-10.5" font-size="14.0">5</tspan></text>
<text x="1281.2" y="1522.5" font-size="15.2" fill="#1c1c1c" stroke="#1c1c1c" stroke-width="0.35">0</text>
<text x="1272.8" y="1424.8" font-size="15.2" fill="#1c1c1c" stroke="#1c1c1c" stroke-width="0.35">10<tspan dx="0.3" dy="-10.5" font-size="14.0">3</tspan></text>
<text x="1272.8" y="1346.4" font-size="15.2" fill="#1c1c1c" stroke="#1c1c1c" stroke-width="0.35">10<tspan dx="0.3" dy="-10.5" font-size="14.0">4</tspan></text>
<text x="1272.8" y="1272.3" font-size="15.2" fill="#1c1c1c" stroke="#1c1c1c" stroke-width="0.35">10<tspan dx="0.3" dy="-10.5" font-size="14.0">5</tspan></text>
<text x="1582.0" y="1291.3" font-size="45.76" textLength="49.1" lengthAdjust="spacingAndGlyphs">12</text>
<text x="808.0" y="1726.4" font-size="55.12" font-weight="bold" textLength="32.7" lengthAdjust="spacingAndGlyphs">L</text>
<text x="975.2" y="1805.0" font-size="50.96" font-style="italic" textLength="137.4" lengthAdjust="spacingAndGlyphs">Tet2/3</text>
<text x="1135.8" y="1805.0" font-size="50.96" textLength="74.6" lengthAdjust="spacingAndGlyphs">WT</text>
<text x="1333.7" y="1805.0" font-size="50.96" font-style="italic" textLength="137.8" lengthAdjust="spacingAndGlyphs">Tet2/3</text>
<text x="1488.7" y="1805.0" font-size="50.96" textLength="113.0" lengthAdjust="spacingAndGlyphs">DKO</text>
<text transform="translate(851.4,2126.5) rotate(-90)" x="-1.3" y="0" font-size="54.08" font-weight="bold" textLength="240.1" lengthAdjust="spacingAndGlyphs">APC-IgG1</text>
<text x="930.2" y="2248.9" font-size="52.0" font-weight="bold" textLength="167.4" lengthAdjust="spacingAndGlyphs">PE-IgA</text>
<rect x="1114.0" y="2229.2" width="520.7" height="5.5" fill="#000"/>
<path d="M1632.7 2215.8L1666.1 2232.0L1632.7 2248.2z"/>
<g filter="url(#fl1)" style="isolation:isolate"><rect x="931.3" y="1834.1" width="326.8" height="326.9" fill="#000"/><g style="mix-blend-mode:lighten">
<ellipse cx="1020.0" cy="2050.0" rx="70.0" ry="115.0" fill="url(#g67)" transform="rotate(8 1020.0 2050.0)" style="mix-blend-mode:lighten"/>
<ellipse cx="1020.0" cy="2052.0" rx="52.0" ry="88.0" fill="url(#g68)" transform="rotate(8 1020.0 2052.0)" style="mix-blend-mode:lighten"/>
<ellipse cx="1021.0" cy="2048.0" rx="30.0" ry="56.0" fill="url(#g69)" transform="rotate(8 1021.0 2048.0)" style="mix-blend-mode:lighten"/>
<ellipse cx="1030.0" cy="1936.0" rx="60.0" ry="78.0" fill="url(#g70)" transform="rotate(10 1030.0 1936.0)" style="mix-blend-mode:lighten"/>
<ellipse cx="1185.0" cy="2040.0" rx="44.0" ry="78.0" fill="url(#g71)" style="mix-blend-mode:lighten"/>
<ellipse cx="1180.0" cy="1960.0" rx="32.0" ry="62.0" fill="url(#g72)" style="mix-blend-mode:lighten"/>
</g></g>
<rect x="933.5" y="1838.2" width="149.4" height="157.7" fill="none" stroke="#000" stroke-width="2"/>
<rect x="1096.4" y="1999.9" width="153.2" height="160.1" fill="none" stroke="#000" stroke-width="2"/>
<rect x="929.8" y="1832.6" width="329.8" height="329.9" fill="none" stroke="#000" stroke-width="7" stroke-linejoin="round"/>
<path d="M938.7 2165.5v3.0M996.3 2165.5v3.0M1075.6 2165.5v3.0M1153.3 2165.5v3.0M1228.4 2165.5v3.0" stroke="#000" stroke-width="1.6" fill="none"/>
<path d="M1020.2 2165.5v1.5M1034.2 2165.5v1.5M1044.1 2165.5v1.5M1051.7 2165.5v1.5M1058.0 2165.5v1.5M1063.3 2165.5v1.5M1067.9 2165.5v1.5M1072.0 2165.5v1.5M1099.0 2165.5v1.5M1112.7 2165.5v1.5M1122.4 2165.5v1.5M1129.9 2165.5v1.5M1136.1 2165.5v1.5M1141.3 2165.5v1.5M1145.8 2165.5v1.5M1149.7 2165.5v1.5M1175.9 2165.5v1.5M1189.1 2165.5v1.5M1198.5 2165.5v1.5M1205.8 2165.5v1.5M1211.7 2165.5v1.5M1216.8 2165.5v1.5M1221.1 2165.5v1.5M1225.0 2165.5v1.5M1251.0 2165.5v1.5M970.4 2165.5v1.5M964.6 2165.5v1.5M973.3 2165.5v1.5M961.7 2165.5v1.5M976.2 2165.5v1.5M958.8 2165.5v1.5M979.0 2165.5v1.5M956.0 2165.5v1.5M981.9 2165.5v1.5M953.1 2165.5v1.5M984.8 2165.5v1.5M950.2 2165.5v1.5M987.7 2165.5v1.5M947.3 2165.5v1.5M990.6 2165.5v1.5M944.4 2165.5v1.5M993.5 2165.5v1.5M941.5 2165.5v1.5" stroke="#000" stroke-width="1.0" fill="none"/>
<path d="M967.5 2165.5v3.0" stroke="#000" stroke-width="5" fill="none"/>
<path d="M926.8 2149.0h-6.0M926.8 2090.5h-6.0M926.8 2012.7h-6.0M926.8 1936.8h-6.0M926.8 1861.8h-6.0" stroke="#000" stroke-width="1.6" fill="none"/>
<path d="M926.8 2067.1h-2.5M926.8 2053.4h-2.5M926.8 2043.7h-2.5M926.8 2036.1h-2.5M926.8 2030.0h-2.5M926.8 2024.8h-2.5M926.8 2020.2h-2.5M926.8 2016.3h-2.5M926.8 1989.9h-2.5M926.8 1976.5h-2.5M926.8 1967.0h-2.5M926.8 1959.6h-2.5M926.8 1953.6h-2.5M926.8 1948.6h-2.5M926.8 1944.2h-2.5M926.8 1940.3h-2.5M926.8 1914.2h-2.5M926.8 1901.0h-2.5M926.8 1891.6h-2.5M926.8 1884.4h-2.5M926.8 1878.4h-2.5M926.8 1873.4h-2.5M926.8 1869.1h-2.5M926.8 1865.2h-2.5M926.8 1839.2h-2.5M926.8 2117.9h-2.5M926.8 2123.7h-2.5M926.8 2114.8h-2.5M926.8 2126.5h-2.5M926.8 2111.8h-2.5M926.8 2129.3h-2.5M926.8 2108.7h-2.5M926.8 2132.1h-2.5M926.8 2105.7h-2.5M926.8 2134.9h-2.5M926.8 2102.7h-2.5M926.8 2137.8h-2.5M926.8 2099.6h-2.5M926.8 2140.6h-2.5M926.8 2096.6h-2.5M926.8 2143.4h-2.5M926.8 2093.5h-2.5M926.8 2146.2h-2.5" stroke="#000" stroke-width="1.0" fill="none"/>
<path d="M926.8 2120.9h-6.0" stroke="#000" stroke-width="5" fill="none"/>
<text x="970.1" y="2195.6" font-size="15.2" fill="#1c1c1c" stroke="#1c1c1c" stroke-width="0.35">0</text>
<text x="1073.8" y="2196.3" font-size="15.2" fill="#1c1c1c" stroke="#1c1c1c" stroke-width="0.35">10<tspan dx="0.3" dy="-10.5" font-size="14.0">3</tspan></text>
<text x="1151.5" y="2196.3" font-size="15.2" fill="#1c1c1c" stroke="#1c1c1c" stroke-width="0.35">10<tspan dx="0.3" dy="-10.5" font-size="14.0">4</tspan></text>
<text x="1226.6" y="2196.3" font-size="15.2" fill="#1c1c1c" stroke="#1c1c1c" stroke-width="0.35">10<tspan dx="0.3" dy="-10.5" font-size="14.0">5</tspan></text>
<text x="896.3" y="2125.7" font-size="15.2" fill="#1c1c1c" stroke="#1c1c1c" stroke-width="0.35">0</text>
<text x="887.9" y="2099.4" font-size="15.2" fill="#1c1c1c" stroke="#1c1c1c" stroke-width="0.35">10<tspan dx="0.3" dy="-10.5" font-size="14.0">2</tspan></text>
<text x="881.4" y="2157.9" font-size="15.2" fill="#1c1c1c" stroke="#1c1c1c" stroke-width="0.35">-10<tspan dx="0.3" dy="-10.5" font-size="14.0">2</tspan></text>
<text x="887.9" y="2021.6" font-size="15.2" fill="#1c1c1c" stroke="#1c1c1c" stroke-width="0.35">10<tspan dx="0.3" dy="-10.5" font-size="14.0">3</tspan></text>
<text x="887.9" y="1945.7" font-size="15.2" fill="#1c1c1c" stroke="#1c1c1c" stroke-width="0.35">10<tspan dx="0.3" dy="-10.5" font-size="14.0">4</tspan></text>
<text x="887.9" y="1870.7" font-size="15.2" fill="#1c1c1c" stroke="#1c1c1c" stroke-width="0.35">10<tspan dx="0.3" dy="-10.5" font-size="14.0">5</tspan></text>
<text x="937.7" y="1889.3" font-size="45.76" textLength="49.6" lengthAdjust="spacingAndGlyphs">18</text>
<text x="1177.2" y="2124.3" font-size="45.76" textLength="62.9" lengthAdjust="spacingAndGlyphs">4.5</text>
<g filter="url(#fl2)" style="isolation:isolate"><rect x="1311.3" y="1834.1" width="326.8" height="326.9" fill="#000"/><g style="mix-blend-mode:lighten">
<ellipse cx="1367.0" cy="2087.0" rx="84.0" ry="92.0" fill="url(#g73)" style="mix-blend-mode:lighten"/>
<ellipse cx="1367.0" cy="2087.0" rx="60.0" ry="66.0" fill="url(#g74)" style="mix-blend-mode:lighten"/>
<ellipse cx="1368.0" cy="2088.0" rx="32.0" ry="36.0" fill="url(#g75)" style="mix-blend-mode:lighten"/>
<ellipse cx="1385.0" cy="1930.0" rx="85.0" ry="85.0" fill="url(#g76)" style="mix-blend-mode:lighten"/>
<ellipse cx="1570.0" cy="2080.0" rx="58.0" ry="75.0" fill="url(#g77)" style="mix-blend-mode:lighten"/>
</g></g>
<rect x="1313.5" y="1838.8" width="151.6" height="158.2" fill="none" stroke="#000" stroke-width="2"/>
<rect x="1479.3" y="2001.5" width="153.0" height="158.5" fill="none" stroke="#000" stroke-width="1.4"/>
<rect x="1309.8" y="1832.6" width="329.8" height="329.9" fill="none" stroke="#000" stroke-width="7" stroke-linejoin="round"/>
<path d="M1319.2 2165.5v5.5M1376.8 2165.5v5.5M1456.1 2165.5v5.5M1533.8 2165.5v5.5M1608.9 2165.5v5.5" stroke="#000" stroke-width="1.6" fill="none"/>
<path d="M1400.7 2165.5v2.5M1414.7 2165.5v2.5M1424.6 2165.5v2.5M1432.2 2165.5v2.5M1438.5 2165.5v2.5M1443.8 2165.5v2.5M1448.4 2165.5v2.5M1452.5 2165.5v2.5M1479.5 2165.5v2.5M1493.2 2165.5v2.5M1502.9 2165.5v2.5M1510.4 2165.5v2.5M1516.6 2165.5v2.5M1521.8 2165.5v2.5M1526.3 2165.5v2.5M1530.2 2165.5v2.5M1556.4 2165.5v2.5M1569.6 2165.5v2.5M1579.0 2165.5v2.5M1586.3 2165.5v2.5M1592.2 2165.5v2.5M1597.3 2165.5v2.5M1601.6 2165.5v2.5M1605.5 2165.5v2.5M1631.5 2165.5v2.5M1350.9 2165.5v2.5M1345.1 2165.5v2.5M1353.8 2165.5v2.5M1342.2 2165.5v2.5M1356.7 2165.5v2.5M1339.3 2165.5v2.5M1359.5 2165.5v2.5M1336.5 2165.5v2.5M1362.4 2165.5v2.5M1333.6 2165.5v2.5M1365.3 2165.5v2.5M1330.7 2165.5v2.5M1368.2 2165.5v2.5M1327.8 2165.5v2.5M1371.1 2165.5v2.5M1324.9 2165.5v2.5M1374.0 2165.5v2.5M1322.0 2165.5v2.5" stroke="#000" stroke-width="1.0" fill="none"/>
<path d="M1348.0 2165.5v5.5" stroke="#000" stroke-width="5" fill="none"/>
<path d="M1306.8 2150.5h-6.0M1306.8 2091.5h-6.0M1306.8 2013.5h-6.0M1306.8 1937.5h-6.0M1306.8 1862.5h-6.0" stroke="#000" stroke-width="1.6" fill="none"/>
<path d="M1306.8 2068.0h-2.5M1306.8 2054.3h-2.5M1306.8 2044.5h-2.5M1306.8 2037.0h-2.5M1306.8 2030.8h-2.5M1306.8 2025.6h-2.5M1306.8 2021.1h-2.5M1306.8 2017.1h-2.5M1306.8 1990.6h-2.5M1306.8 1977.2h-2.5M1306.8 1967.7h-2.5M1306.8 1960.4h-2.5M1306.8 1954.4h-2.5M1306.8 1949.3h-2.5M1306.8 1944.9h-2.5M1306.8 1941.0h-2.5M1306.8 1914.9h-2.5M1306.8 1901.7h-2.5M1306.8 1892.3h-2.5M1306.8 1885.1h-2.5M1306.8 1879.1h-2.5M1306.8 1874.1h-2.5M1306.8 1869.8h-2.5M1306.8 1865.9h-2.5M1306.8 1839.9h-2.5M1306.8 2119.4h-2.5M1306.8 2125.3h-2.5M1306.8 2116.3h-2.5M1306.8 2128.1h-2.5M1306.8 2113.2h-2.5M1306.8 2130.9h-2.5M1306.8 2110.1h-2.5M1306.8 2133.7h-2.5M1306.8 2107.0h-2.5M1306.8 2136.5h-2.5M1306.8 2103.9h-2.5M1306.8 2139.3h-2.5M1306.8 2100.8h-2.5M1306.8 2142.1h-2.5M1306.8 2097.7h-2.5M1306.8 2144.9h-2.5M1306.8 2094.6h-2.5M1306.8 2147.7h-2.5" stroke="#000" stroke-width="1.0" fill="none"/>
<path d="M1306.8 2122.5h-6.0" stroke="#000" stroke-width="5" fill="none"/>
<text x="1350.6" y="2195.6" font-size="15.2" fill="#1c1c1c" stroke="#1c1c1c" stroke-width="0.35">0</text>
<text x="1454.3" y="2196.3" font-size="15.2" fill="#1c1c1c" stroke="#1c1c1c" stroke-width="0.35">10<tspan dx="0.3" dy="-10.5" font-size="14.0">3</tspan></text>
<text x="1532.0" y="2196.3" font-size="15.2" fill="#1c1c1c" stroke="#1c1c1c" stroke-width="0.35">10<tspan dx="0.3" dy="-10.5" font-size="14.0">4</tspan></text>
<text x="1607.1" y="2196.3" font-size="15.2" fill="#1c1c1c" stroke="#1c1c1c" stroke-width="0.35">10<tspan dx="0.3" dy="-10.5" font-size="14.0">5</tspan></text>
<text x="1276.3" y="2127.3" font-size="15.2" fill="#1c1c1c" stroke="#1c1c1c" stroke-width="0.35">0</text>
<text x="1267.9" y="2100.4" font-size="15.2" fill="#1c1c1c" stroke="#1c1c1c" stroke-width="0.35">10<tspan dx="0.3" dy="-10.5" font-size="14.0">2</tspan></text>
<text x="1261.4" y="2159.4" font-size="15.2" fill="#1c1c1c" stroke="#1c1c1c" stroke-width="0.35">-10<tspan dx="0.3" dy="-10.5" font-size="14.0">2</tspan></text>
<text x="1267.9" y="2022.4" font-size="15.2" fill="#1c1c1c" stroke="#1c1c1c" stroke-width="0.35">10<tspan dx="0.3" dy="-10.5" font-size="14.0">3</tspan></text>
<text x="1267.9" y="1946.4" font-size="15.2" fill="#1c1c1c" stroke="#1c1c1c" stroke-width="0.35">10<tspan dx="0.3" dy="-10.5" font-size="14.0">4</tspan></text>
<text x="1267.9" y="1871.4" font-size="15.2" fill="#1c1c1c" stroke="#1c1c1c" stroke-width="0.35">10<tspan dx="0.3" dy="-10.5" font-size="14.0">5</tspan></text>
<text x="1318.1" y="1890.0" font-size="45.76" textLength="62.7" lengthAdjust="spacingAndGlyphs">3.8</text>
<text x="1560.9" y="2125.4" font-size="45.76" textLength="62.5" lengthAdjust="spacingAndGlyphs">1.0</text>
<text x="1772.8" y="1152.8" font-size="55.12" font-weight="bold" textLength="19.1" lengthAdjust="spacingAndGlyphs">I</text>
<text x="1924.7" y="1196.0" font-size="48.88" font-weight="bold" textLength="109.7" lengthAdjust="spacingAndGlyphs">IgG1</text>
<rect x="1886.2" y="1249.8" width="7.6" height="320.0" fill="#000"/>
<rect x="1872.9" y="1562.2" width="227.1" height="7.6" fill="#000"/>
<rect x="1872.9" y="1249.6" width="14.3" height="7.6" fill="#000"/>
<rect x="1872.9" y="1312.0" width="14.3" height="7.6" fill="#000"/>
<rect x="1872.9" y="1375.2" width="14.3" height="7.6" fill="#000"/>
<rect x="1872.9" y="1438.2" width="14.3" height="7.6" fill="#000"/>
<rect x="1872.9" y="1499.7" width="14.3" height="7.6" fill="#000"/>
<text x="1823.6" y="1266.7" font-size="41.6" font-weight="bold" textLength="44.5" lengthAdjust="spacingAndGlyphs">25</text>
<text x="1824.1" y="1329.1" font-size="41.6" font-weight="bold" textLength="44.5" lengthAdjust="spacingAndGlyphs">20</text>
<text x="1823.6" y="1392.3" font-size="41.6" font-weight="bold" textLength="44.5" lengthAdjust="spacingAndGlyphs">15</text>
<text x="1824.1" y="1455.3" font-size="41.6" font-weight="bold" textLength="44.5" lengthAdjust="spacingAndGlyphs">10</text>
<text x="1845.8" y="1516.8" font-size="41.6" font-weight="bold" textLength="22.2" lengthAdjust="spacingAndGlyphs">5</text>
<text x="1846.3" y="1579.3" font-size="41.6" font-weight="bold" textLength="22.2" lengthAdjust="spacingAndGlyphs">0</text>
<text transform="translate(1810.8,1487.7) rotate(-90)" x="-0.9" y="0" font-size="43.68" font-weight="bold" textLength="122.7" lengthAdjust="spacingAndGlyphs">% IgG1</text>
<text transform="translate(1796.5,1358.5) rotate(-90)" x="-1.5" y="0" font-size="31.2" font-weight="bold" textLength="20.4" lengthAdjust="spacingAndGlyphs">+</text>
<text x="1981.9" y="1283.3" font-size="51.81" font-weight="bold" textLength="69.5" lengthAdjust="spacingAndGlyphs">***</text>
<circle cx="1942.2" cy="1292.9" r="11.6" fill="#4F81BD" stroke="#000" stroke-width="2.8"/>
<circle cx="1967.7" cy="1306.8" r="11.6" fill="#4F81BD" stroke="#000" stroke-width="2.8"/>
<circle cx="1941.5" cy="1350.2" r="11.6" fill="#4F81BD" stroke="#000" stroke-width="2.8"/>
<circle cx="1967.7" cy="1342.2" r="11.6" fill="#4F81BD" stroke="#000" stroke-width="2.8"/>
<rect x="1952.7" y="1309.2" width="5.5" height="28.6" fill="#000"/>
<rect x="1941.5" y="1306.5" width="27.7" height="5.5" fill="#000"/>
<rect x="1941.5" y="1335.0" width="27.7" height="5.5" fill="#000"/>
<rect x="1929.2" y="1318.8" width="53.3" height="10.5" fill="#000"/>
<circle cx="2016.9" cy="1435.4" r="11.6" fill="#F04B39" stroke="#000" stroke-width="2.8"/>
<circle cx="2027.7" cy="1438.5" r="11.6" fill="#F04B39" stroke="#000" stroke-width="2.8"/>
<circle cx="2040.0" cy="1435.4" r="11.6" fill="#F04B39" stroke="#000" stroke-width="2.8"/>
<circle cx="2050.8" cy="1433.8" r="11.6" fill="#F04B39" stroke="#000" stroke-width="2.8"/>
<rect x="2006.2" y="1432.3" width="56.8" height="7.7" fill="#000"/>
<text x="1922.3" y="1634.5" font-size="41.6" textLength="63.2" lengthAdjust="spacingAndGlyphs">WT</text>
<text x="1993.6" y="1634.5" font-size="41.6" textLength="89.9" lengthAdjust="spacingAndGlyphs">DKO</text>
<text x="2163.2" y="1152.8" font-size="55.12" font-weight="bold" textLength="28.8" lengthAdjust="spacingAndGlyphs">J</text>
<text transform="translate(2255.5,1621.5) rotate(-90)" x="-2.0" y="0" font-size="41.6" textLength="465.9" lengthAdjust="spacingAndGlyphs">Circular γ1 RNA (fold WT)</text>
<rect x="2333.5" y="1192.9" width="7.7" height="391.7" fill="#000"/>
<rect x="2322.1" y="1576.9" width="199.9" height="7.7" fill="#000"/>
<rect x="2322.1" y="1192.7" width="12.4" height="7.7" fill="#000"/>
<rect x="2322.1" y="1258.0" width="12.4" height="7.7" fill="#000"/>
<rect x="2322.1" y="1321.2" width="12.4" height="7.7" fill="#000"/>
<rect x="2322.1" y="1385.9" width="12.4" height="7.7" fill="#000"/>
<rect x="2322.1" y="1449.6" width="12.4" height="7.7" fill="#000"/>
<rect x="2322.1" y="1513.4" width="12.4" height="7.7" fill="#000"/>
<text x="2277.0" y="1207.3" font-size="30.16" font-weight="bold" textLength="40.3" lengthAdjust="spacingAndGlyphs">1.2</text>
<text x="2277.0" y="1272.6" font-size="30.16" font-weight="bold" textLength="40.3" lengthAdjust="spacingAndGlyphs">1.0</text>
<text x="2276.8" y="1335.9" font-size="30.16" font-weight="bold" textLength="40.3" lengthAdjust="spacingAndGlyphs">0.8</text>
<text x="2276.9" y="1400.5" font-size="30.16" font-weight="bold" textLength="40.3" lengthAdjust="spacingAndGlyphs">0.6</text>
<text x="2276.0" y="1464.2" font-size="30.16" font-weight="bold" textLength="40.3" lengthAdjust="spacingAndGlyphs">0.4</text>
<text x="2277.0" y="1528.0" font-size="30.16" font-weight="bold" textLength="40.3" lengthAdjust="spacingAndGlyphs">0.2</text>
<text x="2277.0" y="1591.6" font-size="30.16" font-weight="bold" textLength="40.3" lengthAdjust="spacingAndGlyphs">0.0</text>
<rect x="2364.2" y="1262.2" width="52.2" height="318.8" fill="#4F81BD" stroke="#000" stroke-width="4.5"/>
<rect x="2441.8" y="1400.8" width="52.4" height="180.2" fill="#F04B39" stroke="#000" stroke-width="4.5"/>
<rect x="2466.0" y="1377.8" width="5.6" height="50.0" fill="#000"/>
<rect x="2452.8" y="1375.0" width="32.4" height="5.6" fill="#000"/>
<rect x="2452.8" y="1425.0" width="32.4" height="5.6" fill="#000"/>
<text x="2430.3" y="1253.8" font-size="51.27" font-weight="bold" textLength="20.2" lengthAdjust="spacingAndGlyphs">*</text>
<text x="2367.1" y="1640.0" font-size="41.6" textLength="59.5" lengthAdjust="spacingAndGlyphs">WT</text>
<text x="2442.4" y="1640.0" font-size="41.6" textLength="90.0" lengthAdjust="spacingAndGlyphs">DKO</text>
<text x="1760.9" y="1742.1" font-size="55.12" font-weight="bold" textLength="42.7" lengthAdjust="spacingAndGlyphs">M</text>
<text x="1913.8" y="1794.2" font-size="55.12" font-weight="bold" textLength="120.9" lengthAdjust="spacingAndGlyphs">IgG1</text>
<rect x="1883.3" y="1800.7" width="7.5" height="416.3" fill="#000"/>
<rect x="1870.3" y="2209.5" width="212.4" height="7.5" fill="#000"/>
<rect x="1870.3" y="1800.8" width="14.0" height="7.5" fill="#000"/>
<rect x="1870.3" y="1903.3" width="14.0" height="7.5" fill="#000"/>
<rect x="1870.3" y="2006.5" width="14.0" height="7.5" fill="#000"/>
<rect x="1870.3" y="2110.1" width="14.0" height="7.5" fill="#000"/>
<text x="1832.0" y="1815.0" font-size="31.2" font-weight="bold" textLength="33.4" lengthAdjust="spacingAndGlyphs">20</text>
<text x="1831.6" y="1917.6" font-size="31.2" font-weight="bold" textLength="33.4" lengthAdjust="spacingAndGlyphs">15</text>
<text x="1832.0" y="2020.8" font-size="31.2" font-weight="bold" textLength="33.4" lengthAdjust="spacingAndGlyphs">10</text>
<text x="1848.3" y="2124.3" font-size="31.2" font-weight="bold" textLength="16.7" lengthAdjust="spacingAndGlyphs">5</text>
<text x="1848.6" y="2223.8" font-size="31.2" font-weight="bold" textLength="16.7" lengthAdjust="spacingAndGlyphs">0</text>
<text transform="translate(1797.0,2079.2) rotate(-90)" x="-1.0" y="0" font-size="43.68" font-weight="bold" textLength="140.7" lengthAdjust="spacingAndGlyphs">% IgG1</text>
<rect x="1942.2" y="1882.8" width="4.8" height="48.2" fill="#000"/>
<rect x="1927.3" y="1880.4" width="31.6" height="4.8" fill="#000"/>
<rect x="2024.2" y="2106.9" width="4.8" height="14.1" fill="#000"/>
<rect x="2011.0" y="2104.5" width="31.3" height="4.8" fill="#000"/>
<rect x="1915.8" y="1930.0" width="55.8" height="283.5" fill="#4F81BD" stroke="#000" stroke-width="4.5"/>
<rect x="1999.0" y="2120.6" width="55.4" height="92.9" fill="#F04B39" stroke="#000" stroke-width="4.5"/>
<text x="1976.1" y="1883.2" font-size="52.35" font-weight="bold" textLength="21.3" lengthAdjust="spacingAndGlyphs">*</text>
<text x="1907.6" y="2276.4" font-size="41.6" textLength="67.9" lengthAdjust="spacingAndGlyphs">WT</text>
<text x="1988.7" y="2276.4" font-size="41.6" textLength="97.0" lengthAdjust="spacingAndGlyphs">DKO</text>
<text x="2157.0" y="1742.1" font-size="55.12" font-weight="bold" textLength="36.9" lengthAdjust="spacingAndGlyphs">N</text>
<text x="2371.6" y="1800.1" font-size="55.12" font-weight="bold" textLength="90.1" lengthAdjust="spacingAndGlyphs">IgA</text>
<rect x="2298.8" y="1795.9" width="7.9" height="421.1" fill="#000"/>
<rect x="2284.8" y="2209.1" width="235.2" height="7.9" fill="#000"/>
<rect x="2284.8" y="1795.7" width="15.0" height="7.9" fill="#000"/>
<rect x="2284.8" y="1934.8" width="15.0" height="7.9" fill="#000"/>
<rect x="2284.8" y="2071.6" width="15.0" height="7.9" fill="#000"/>
<text x="2262.7" y="1810.1" font-size="31.2" font-weight="bold" textLength="16.7" lengthAdjust="spacingAndGlyphs">6</text>
<text x="2262.9" y="2223.5" font-size="31.2" font-weight="bold" textLength="16.7" lengthAdjust="spacingAndGlyphs">0</text>
<text transform="translate(2252.0,2069.5) rotate(-90)" x="-1.1" y="0" font-size="43.68" font-weight="bold" textLength="121.2" lengthAdjust="spacingAndGlyphs">% IgA</text>
<rect x="2364.5" y="1871.8" width="4.8" height="14.2" fill="#000"/>
<rect x="2348.4" y="1869.4" width="34.8" height="4.8" fill="#000"/>
<rect x="2455.1" y="2110.8" width="4.8" height="21.2" fill="#000"/>
<rect x="2440.2" y="2108.4" width="34.5" height="4.8" fill="#000"/>
<rect x="2333.7" y="1885.0" width="62.3" height="328.5" fill="#4F81BD" stroke="#000" stroke-width="4.5"/>
<rect x="2425.6" y="2131.3" width="62.2" height="82.2" fill="#F04B39" stroke="#000" stroke-width="4.5"/>
<text x="2361.8" y="1875.7" font-size="60.57" textLength="78.2" lengthAdjust="spacingAndGlyphs">***</text>
<text x="2331.8" y="2272.0" font-size="41.6" textLength="69.7" lengthAdjust="spacingAndGlyphs">WT</text>
<text x="2424.5" y="2272.0" font-size="41.6" textLength="97.6" lengthAdjust="spacingAndGlyphs">DKO</text>
</svg>
</body></html>
